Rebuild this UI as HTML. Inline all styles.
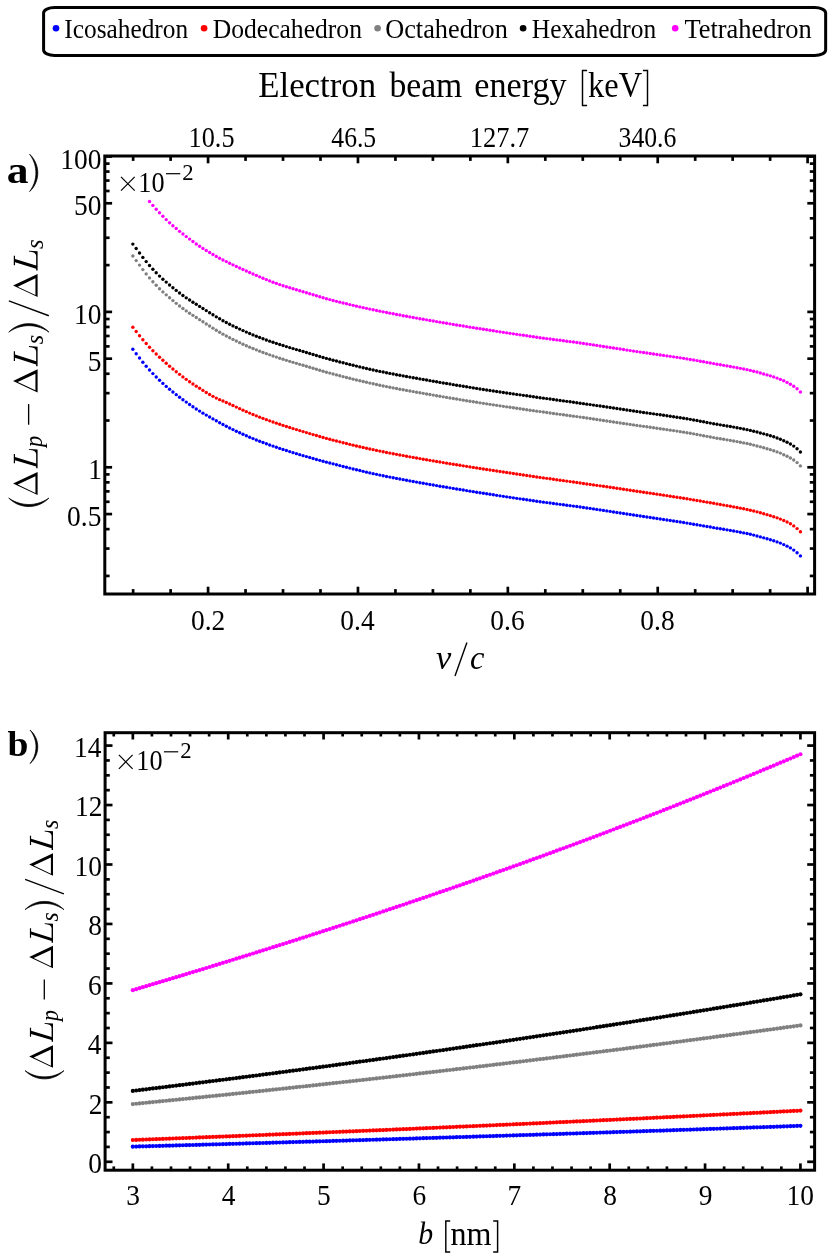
<!DOCTYPE html>
<html><head><meta charset="utf-8"><title>chart</title>
<style>html,body{margin:0;padding:0;background:#fff}svg{display:block;will-change:transform}text{font-family:"Liberation Serif",serif;fill:#000}</style>
</head><body>
<svg width="830" height="1255" viewBox="0 0 830 1255">
<rect width="830" height="1255" fill="#fff"/>
<rect x="43.6" y="7.45" width="782.05" height="48.05" rx="11" ry="5.5" fill="none" stroke="#000" stroke-width="3"/>
<circle cx="56.0" cy="28.3" r="3.3" fill="#0000ff"/>
<text x="64.31" y="37.80" font-size="26.60" textLength="123.77" lengthAdjust="spacingAndGlyphs">Icosahedron</text>
<circle cx="204.1" cy="28.3" r="3.3" fill="#ff0000"/>
<text x="212.66" y="37.80" font-size="26.60" textLength="149.32" lengthAdjust="spacingAndGlyphs">Dodecahedron</text>
<circle cx="377.6" cy="28.3" r="3.3" fill="#808080"/>
<text x="385.15" y="37.80" font-size="26.60" textLength="122.75" lengthAdjust="spacingAndGlyphs">Octahedron</text>
<circle cx="523.1" cy="28.3" r="3.3" fill="#000000"/>
<text x="531.86" y="37.80" font-size="26.60" textLength="124.32" lengthAdjust="spacingAndGlyphs">Hexahedron</text>
<circle cx="675.2" cy="28.3" r="3.3" fill="#ff00ff"/>
<text x="684.40" y="37.80" font-size="26.60" textLength="127.29" lengthAdjust="spacingAndGlyphs">Tetrahedron</text>
<text x="258.23" y="97.20" font-size="35.20" textLength="117.89" lengthAdjust="spacingAndGlyphs">Electron</text>
<text x="389.40" y="97.20" font-size="35.20" textLength="72.93" lengthAdjust="spacingAndGlyphs">beam</text>
<text x="474.30" y="97.20" font-size="35.20" textLength="92.40" lengthAdjust="spacingAndGlyphs">energy</text>
<text x="588.11" y="97.20" font-size="35.20" textLength="54.02" lengthAdjust="spacingAndGlyphs">keV</text>
<path d="M587.10 70.40 H582.50 V105.50 H587.10" fill="none" stroke="#000" stroke-width="1.45" stroke-linejoin="miter"/>
<path d="M642.90 70.40 H647.50 V105.50 H642.90" fill="none" stroke="#000" stroke-width="1.45"/>
<text x="188.57" y="147.40" font-size="29.50" textLength="45.95" lengthAdjust="spacingAndGlyphs">10.5</text>
<text x="331.32" y="147.40" font-size="29.50" textLength="44.88" lengthAdjust="spacingAndGlyphs">46.5</text>
<text x="469.65" y="147.40" font-size="29.50" textLength="59.61" lengthAdjust="spacingAndGlyphs">127.7</text>
<text x="618.54" y="147.40" font-size="29.50" textLength="57.80" lengthAdjust="spacingAndGlyphs">340.6</text>
<rect x="104.8" y="156.0" width="709.80" height="438.00" fill="none" stroke="#000" stroke-width="3.0"/>
<g stroke="#000" stroke-width="2.7" fill="none">
<line x1="133.14" y1="594.0" x2="133.14" y2="589.10"/>
<line x1="133.14" y1="156.0" x2="133.14" y2="160.90"/>
<line x1="170.61" y1="594.0" x2="170.61" y2="589.10"/>
<line x1="170.61" y1="156.0" x2="170.61" y2="160.90"/>
<line x1="208.08" y1="594.0" x2="208.08" y2="586.70"/>
<line x1="208.08" y1="156.0" x2="208.08" y2="163.30"/>
<line x1="245.55" y1="594.0" x2="245.55" y2="589.10"/>
<line x1="245.55" y1="156.0" x2="245.55" y2="160.90"/>
<line x1="283.02" y1="594.0" x2="283.02" y2="589.10"/>
<line x1="283.02" y1="156.0" x2="283.02" y2="160.90"/>
<line x1="320.49" y1="594.0" x2="320.49" y2="589.10"/>
<line x1="320.49" y1="156.0" x2="320.49" y2="160.90"/>
<line x1="357.96" y1="594.0" x2="357.96" y2="586.70"/>
<line x1="357.96" y1="156.0" x2="357.96" y2="163.30"/>
<line x1="395.43" y1="594.0" x2="395.43" y2="589.10"/>
<line x1="395.43" y1="156.0" x2="395.43" y2="160.90"/>
<line x1="432.90" y1="594.0" x2="432.90" y2="589.10"/>
<line x1="432.90" y1="156.0" x2="432.90" y2="160.90"/>
<line x1="470.37" y1="594.0" x2="470.37" y2="589.10"/>
<line x1="470.37" y1="156.0" x2="470.37" y2="160.90"/>
<line x1="507.84" y1="594.0" x2="507.84" y2="586.70"/>
<line x1="507.84" y1="156.0" x2="507.84" y2="163.30"/>
<line x1="545.31" y1="594.0" x2="545.31" y2="589.10"/>
<line x1="545.31" y1="156.0" x2="545.31" y2="160.90"/>
<line x1="582.78" y1="594.0" x2="582.78" y2="589.10"/>
<line x1="582.78" y1="156.0" x2="582.78" y2="160.90"/>
<line x1="620.25" y1="594.0" x2="620.25" y2="589.10"/>
<line x1="620.25" y1="156.0" x2="620.25" y2="160.90"/>
<line x1="657.72" y1="594.0" x2="657.72" y2="586.70"/>
<line x1="657.72" y1="156.0" x2="657.72" y2="163.30"/>
<line x1="695.19" y1="594.0" x2="695.19" y2="589.10"/>
<line x1="695.19" y1="156.0" x2="695.19" y2="160.90"/>
<line x1="732.66" y1="594.0" x2="732.66" y2="589.10"/>
<line x1="732.66" y1="156.0" x2="732.66" y2="160.90"/>
<line x1="770.13" y1="594.0" x2="770.13" y2="589.10"/>
<line x1="770.13" y1="156.0" x2="770.13" y2="160.90"/>
<line x1="807.60" y1="594.0" x2="807.60" y2="586.70"/>
<line x1="807.60" y1="156.0" x2="807.60" y2="163.30"/>
<line x1="104.8" y1="575.92" x2="109.60" y2="575.92"/>
<line x1="814.6" y1="575.92" x2="809.80" y2="575.92"/>
<line x1="104.8" y1="548.56" x2="109.60" y2="548.56"/>
<line x1="814.6" y1="548.56" x2="809.80" y2="548.56"/>
<line x1="104.8" y1="529.14" x2="109.60" y2="529.14"/>
<line x1="814.6" y1="529.14" x2="809.80" y2="529.14"/>
<line x1="104.8" y1="514.08" x2="112.10" y2="514.08"/>
<line x1="814.6" y1="514.08" x2="807.30" y2="514.08"/>
<line x1="104.8" y1="501.78" x2="109.60" y2="501.78"/>
<line x1="814.6" y1="501.78" x2="809.80" y2="501.78"/>
<line x1="104.8" y1="491.37" x2="109.60" y2="491.37"/>
<line x1="814.6" y1="491.37" x2="809.80" y2="491.37"/>
<line x1="104.8" y1="482.36" x2="109.60" y2="482.36"/>
<line x1="814.6" y1="482.36" x2="809.80" y2="482.36"/>
<line x1="104.8" y1="474.41" x2="109.60" y2="474.41"/>
<line x1="814.6" y1="474.41" x2="809.80" y2="474.41"/>
<line x1="104.8" y1="467.30" x2="112.10" y2="467.30"/>
<line x1="814.6" y1="467.30" x2="807.30" y2="467.30"/>
<line x1="104.8" y1="420.52" x2="109.60" y2="420.52"/>
<line x1="814.6" y1="420.52" x2="809.80" y2="420.52"/>
<line x1="104.8" y1="393.16" x2="109.60" y2="393.16"/>
<line x1="814.6" y1="393.16" x2="809.80" y2="393.16"/>
<line x1="104.8" y1="373.74" x2="109.60" y2="373.74"/>
<line x1="814.6" y1="373.74" x2="809.80" y2="373.74"/>
<line x1="104.8" y1="358.68" x2="112.10" y2="358.68"/>
<line x1="814.6" y1="358.68" x2="807.30" y2="358.68"/>
<line x1="104.8" y1="346.38" x2="109.60" y2="346.38"/>
<line x1="814.6" y1="346.38" x2="809.80" y2="346.38"/>
<line x1="104.8" y1="335.97" x2="109.60" y2="335.97"/>
<line x1="814.6" y1="335.97" x2="809.80" y2="335.97"/>
<line x1="104.8" y1="326.96" x2="109.60" y2="326.96"/>
<line x1="814.6" y1="326.96" x2="809.80" y2="326.96"/>
<line x1="104.8" y1="319.01" x2="109.60" y2="319.01"/>
<line x1="814.6" y1="319.01" x2="809.80" y2="319.01"/>
<line x1="104.8" y1="311.90" x2="112.10" y2="311.90"/>
<line x1="814.6" y1="311.90" x2="807.30" y2="311.90"/>
<line x1="104.8" y1="265.12" x2="109.60" y2="265.12"/>
<line x1="814.6" y1="265.12" x2="809.80" y2="265.12"/>
<line x1="104.8" y1="237.76" x2="109.60" y2="237.76"/>
<line x1="814.6" y1="237.76" x2="809.80" y2="237.76"/>
<line x1="104.8" y1="218.34" x2="109.60" y2="218.34"/>
<line x1="814.6" y1="218.34" x2="809.80" y2="218.34"/>
<line x1="104.8" y1="203.28" x2="112.10" y2="203.28"/>
<line x1="814.6" y1="203.28" x2="807.30" y2="203.28"/>
<line x1="104.8" y1="190.98" x2="109.60" y2="190.98"/>
<line x1="814.6" y1="190.98" x2="809.80" y2="190.98"/>
<line x1="104.8" y1="180.57" x2="109.60" y2="180.57"/>
<line x1="814.6" y1="180.57" x2="809.80" y2="180.57"/>
<line x1="104.8" y1="171.56" x2="109.60" y2="171.56"/>
<line x1="814.6" y1="171.56" x2="809.80" y2="171.56"/>
<line x1="104.8" y1="163.61" x2="109.60" y2="163.61"/>
<line x1="814.6" y1="163.61" x2="809.80" y2="163.61"/>
<line x1="104.8" y1="156.50" x2="112.10" y2="156.50"/>
<line x1="814.6" y1="156.50" x2="807.30" y2="156.50"/>
</g>
<text x="60.21" y="168.50" font-size="29.50" textLength="41.15" lengthAdjust="spacingAndGlyphs">100</text>
<text x="73.93" y="215.28" font-size="29.50" textLength="27.44" lengthAdjust="spacingAndGlyphs">50</text>
<text x="73.93" y="323.90" font-size="29.50" textLength="27.43" lengthAdjust="spacingAndGlyphs">10</text>
<text x="87.64" y="370.68" font-size="29.50" textLength="13.72" lengthAdjust="spacingAndGlyphs">5</text>
<text x="88.33" y="479.30" font-size="29.50" textLength="13.72" lengthAdjust="spacingAndGlyphs">1</text>
<text x="67.07" y="526.08" font-size="29.50" textLength="34.29" lengthAdjust="spacingAndGlyphs">0.5</text>
<text x="191.01" y="629.80" font-size="29.50" textLength="34.29" lengthAdjust="spacingAndGlyphs">0.2</text>
<text x="340.34" y="629.80" font-size="29.50" textLength="34.29" lengthAdjust="spacingAndGlyphs">0.4</text>
<text x="490.36" y="629.80" font-size="29.50" textLength="34.29" lengthAdjust="spacingAndGlyphs">0.6</text>
<text x="640.37" y="629.80" font-size="29.50" textLength="34.29" lengthAdjust="spacingAndGlyphs">0.8</text>
<path d="M121.00 176.80 l13.7 13.9 M134.70 176.80 l-13.7 13.9" stroke="#000" stroke-width="1.2" fill="none"/>
<text x="138.37" y="191.80" font-size="30.20" textLength="26.25" lengthAdjust="spacingAndGlyphs">10</text>
<line x1="166.00" y1="173.70" x2="180.30" y2="173.70" stroke="#000" stroke-width="1.2"/>
<text x="182.29" y="179.70" font-size="24.00" textLength="11.36" lengthAdjust="spacingAndGlyphs">2</text>
<g fill="#0000ff"><circle cx="132.85" cy="349.20" r="1.7"/><circle cx="136.19" cy="353.72" r="1.7"/><circle cx="139.53" cy="358.07" r="1.7"/><circle cx="142.86" cy="362.25" r="1.7"/><circle cx="146.20" cy="366.23" r="1.7"/><circle cx="149.54" cy="370.00" r="1.7"/><circle cx="152.88" cy="373.58" r="1.7"/><circle cx="156.21" cy="377.00" r="1.7"/><circle cx="159.55" cy="380.27" r="1.7"/><circle cx="162.89" cy="383.40" r="1.7"/><circle cx="166.23" cy="386.40" r="1.7"/><circle cx="169.57" cy="389.27" r="1.7"/><circle cx="172.90" cy="392.02" r="1.7"/><circle cx="176.24" cy="394.66" r="1.7"/><circle cx="179.58" cy="397.22" r="1.7"/><circle cx="182.92" cy="399.70" r="1.7"/><circle cx="186.25" cy="402.12" r="1.7"/><circle cx="189.59" cy="404.47" r="1.7"/><circle cx="192.93" cy="406.76" r="1.7"/><circle cx="196.27" cy="408.97" r="1.7"/><circle cx="199.61" cy="411.10" r="1.7"/><circle cx="202.94" cy="413.15" r="1.7"/><circle cx="206.28" cy="415.12" r="1.7"/><circle cx="209.62" cy="417.04" r="1.7"/><circle cx="212.96" cy="418.92" r="1.7"/><circle cx="216.30" cy="420.80" r="1.7"/><circle cx="219.63" cy="422.69" r="1.7"/><circle cx="222.97" cy="424.54" r="1.7"/><circle cx="226.31" cy="426.30" r="1.7"/><circle cx="229.65" cy="427.98" r="1.7"/><circle cx="232.98" cy="429.62" r="1.7"/><circle cx="236.32" cy="431.22" r="1.7"/><circle cx="239.66" cy="432.78" r="1.7"/><circle cx="243.00" cy="434.30" r="1.7"/><circle cx="246.34" cy="435.78" r="1.7"/><circle cx="249.67" cy="437.21" r="1.7"/><circle cx="253.01" cy="438.60" r="1.7"/><circle cx="256.35" cy="439.94" r="1.7"/><circle cx="259.69" cy="441.25" r="1.7"/><circle cx="263.02" cy="442.51" r="1.7"/><circle cx="266.36" cy="443.75" r="1.7"/><circle cx="269.70" cy="444.95" r="1.7"/><circle cx="273.04" cy="446.12" r="1.7"/><circle cx="276.38" cy="447.27" r="1.7"/><circle cx="279.71" cy="448.40" r="1.7"/><circle cx="283.05" cy="449.50" r="1.7"/><circle cx="286.39" cy="450.57" r="1.7"/><circle cx="289.73" cy="451.62" r="1.7"/><circle cx="293.06" cy="452.65" r="1.7"/><circle cx="296.40" cy="453.66" r="1.7"/><circle cx="299.74" cy="454.65" r="1.7"/><circle cx="303.08" cy="455.63" r="1.7"/><circle cx="306.42" cy="456.60" r="1.7"/><circle cx="309.75" cy="457.56" r="1.7"/><circle cx="313.09" cy="458.50" r="1.7"/><circle cx="316.43" cy="459.43" r="1.7"/><circle cx="319.77" cy="460.34" r="1.7"/><circle cx="323.10" cy="461.24" r="1.7"/><circle cx="326.44" cy="462.13" r="1.7"/><circle cx="329.78" cy="463.00" r="1.7"/><circle cx="333.12" cy="463.86" r="1.7"/><circle cx="336.46" cy="464.72" r="1.7"/><circle cx="339.79" cy="465.58" r="1.7"/><circle cx="343.13" cy="466.43" r="1.7"/><circle cx="346.47" cy="467.28" r="1.7"/><circle cx="349.81" cy="468.11" r="1.7"/><circle cx="353.14" cy="468.94" r="1.7"/><circle cx="356.48" cy="469.76" r="1.7"/><circle cx="359.82" cy="470.57" r="1.7"/><circle cx="363.16" cy="471.36" r="1.7"/><circle cx="366.50" cy="472.14" r="1.7"/><circle cx="369.83" cy="472.90" r="1.7"/><circle cx="373.17" cy="473.64" r="1.7"/><circle cx="376.51" cy="474.37" r="1.7"/><circle cx="379.85" cy="475.08" r="1.7"/><circle cx="383.19" cy="475.77" r="1.7"/><circle cx="386.52" cy="476.45" r="1.7"/><circle cx="389.86" cy="477.12" r="1.7"/><circle cx="393.20" cy="477.77" r="1.7"/><circle cx="396.54" cy="478.41" r="1.7"/><circle cx="399.87" cy="479.04" r="1.7"/><circle cx="403.21" cy="479.67" r="1.7"/><circle cx="406.55" cy="480.28" r="1.7"/><circle cx="409.89" cy="480.89" r="1.7"/><circle cx="413.23" cy="481.49" r="1.7"/><circle cx="416.56" cy="482.09" r="1.7"/><circle cx="419.90" cy="482.68" r="1.7"/><circle cx="423.24" cy="483.27" r="1.7"/><circle cx="426.58" cy="483.86" r="1.7"/><circle cx="429.91" cy="484.44" r="1.7"/><circle cx="433.25" cy="485.03" r="1.7"/><circle cx="436.59" cy="485.60" r="1.7"/><circle cx="439.93" cy="486.18" r="1.7"/><circle cx="443.27" cy="486.75" r="1.7"/><circle cx="446.60" cy="487.31" r="1.7"/><circle cx="449.94" cy="487.87" r="1.7"/><circle cx="453.28" cy="488.42" r="1.7"/><circle cx="456.62" cy="488.98" r="1.7"/><circle cx="459.95" cy="489.52" r="1.7"/><circle cx="463.29" cy="490.07" r="1.7"/><circle cx="466.63" cy="490.61" r="1.7"/><circle cx="469.97" cy="491.14" r="1.7"/><circle cx="473.31" cy="491.67" r="1.7"/><circle cx="476.64" cy="492.20" r="1.7"/><circle cx="479.98" cy="492.73" r="1.7"/><circle cx="483.32" cy="493.26" r="1.7"/><circle cx="486.66" cy="493.78" r="1.7"/><circle cx="489.99" cy="494.30" r="1.7"/><circle cx="493.33" cy="494.82" r="1.7"/><circle cx="496.67" cy="495.33" r="1.7"/><circle cx="500.01" cy="495.84" r="1.7"/><circle cx="503.35" cy="496.35" r="1.7"/><circle cx="506.68" cy="496.85" r="1.7"/><circle cx="510.02" cy="497.35" r="1.7"/><circle cx="513.36" cy="497.85" r="1.7"/><circle cx="516.70" cy="498.35" r="1.7"/><circle cx="520.03" cy="498.84" r="1.7"/><circle cx="523.37" cy="499.32" r="1.7"/><circle cx="526.71" cy="499.81" r="1.7"/><circle cx="530.05" cy="500.28" r="1.7"/><circle cx="533.39" cy="500.76" r="1.7"/><circle cx="536.72" cy="501.23" r="1.7"/><circle cx="540.06" cy="501.69" r="1.7"/><circle cx="543.40" cy="502.14" r="1.7"/><circle cx="546.74" cy="502.58" r="1.7"/><circle cx="550.08" cy="503.02" r="1.7"/><circle cx="553.41" cy="503.46" r="1.7"/><circle cx="556.75" cy="503.89" r="1.7"/><circle cx="560.09" cy="504.33" r="1.7"/><circle cx="563.43" cy="504.76" r="1.7"/><circle cx="566.76" cy="505.20" r="1.7"/><circle cx="570.10" cy="505.64" r="1.7"/><circle cx="573.44" cy="506.08" r="1.7"/><circle cx="576.78" cy="506.53" r="1.7"/><circle cx="580.12" cy="506.99" r="1.7"/><circle cx="583.45" cy="507.45" r="1.7"/><circle cx="586.79" cy="507.93" r="1.7"/><circle cx="590.13" cy="508.41" r="1.7"/><circle cx="593.47" cy="508.90" r="1.7"/><circle cx="596.80" cy="509.39" r="1.7"/><circle cx="600.14" cy="509.89" r="1.7"/><circle cx="603.48" cy="510.40" r="1.7"/><circle cx="606.82" cy="510.90" r="1.7"/><circle cx="610.16" cy="511.41" r="1.7"/><circle cx="613.49" cy="511.93" r="1.7"/><circle cx="616.83" cy="512.44" r="1.7"/><circle cx="620.17" cy="512.95" r="1.7"/><circle cx="623.51" cy="513.47" r="1.7"/><circle cx="626.84" cy="513.98" r="1.7"/><circle cx="630.18" cy="514.49" r="1.7"/><circle cx="633.52" cy="515.00" r="1.7"/><circle cx="636.86" cy="515.50" r="1.7"/><circle cx="640.20" cy="516.00" r="1.7"/><circle cx="643.53" cy="516.50" r="1.7"/><circle cx="646.87" cy="517.00" r="1.7"/><circle cx="650.21" cy="517.50" r="1.7"/><circle cx="653.55" cy="517.99" r="1.7"/><circle cx="656.88" cy="518.49" r="1.7"/><circle cx="660.22" cy="518.99" r="1.7"/><circle cx="663.56" cy="519.48" r="1.7"/><circle cx="666.90" cy="519.99" r="1.7"/><circle cx="670.24" cy="520.49" r="1.7"/><circle cx="673.57" cy="521.00" r="1.7"/><circle cx="676.91" cy="521.51" r="1.7"/><circle cx="680.25" cy="522.03" r="1.7"/><circle cx="683.59" cy="522.56" r="1.7"/><circle cx="686.92" cy="523.09" r="1.7"/><circle cx="690.26" cy="523.64" r="1.7"/><circle cx="693.60" cy="524.19" r="1.7"/><circle cx="696.94" cy="524.75" r="1.7"/><circle cx="700.28" cy="525.33" r="1.7"/><circle cx="703.61" cy="525.90" r="1.7"/><circle cx="706.95" cy="526.48" r="1.7"/><circle cx="710.29" cy="527.06" r="1.7"/><circle cx="713.63" cy="527.63" r="1.7"/><circle cx="716.97" cy="528.20" r="1.7"/><circle cx="720.30" cy="528.76" r="1.7"/><circle cx="723.64" cy="529.30" r="1.7"/><circle cx="726.98" cy="529.85" r="1.7"/><circle cx="730.32" cy="530.41" r="1.7"/><circle cx="733.65" cy="531.00" r="1.7"/><circle cx="736.99" cy="531.61" r="1.7"/><circle cx="740.33" cy="532.23" r="1.7"/><circle cx="743.67" cy="532.88" r="1.7"/><circle cx="747.01" cy="533.57" r="1.7"/><circle cx="750.34" cy="534.30" r="1.7"/><circle cx="753.68" cy="535.10" r="1.7"/><circle cx="757.02" cy="535.97" r="1.7"/><circle cx="760.36" cy="536.89" r="1.7"/><circle cx="763.69" cy="537.84" r="1.7"/><circle cx="767.03" cy="538.80" r="1.7"/><circle cx="770.37" cy="539.77" r="1.7"/><circle cx="773.71" cy="540.80" r="1.7"/><circle cx="777.05" cy="541.89" r="1.7"/><circle cx="780.38" cy="543.10" r="1.7"/><circle cx="783.72" cy="544.60" r="1.7"/><circle cx="787.06" cy="546.15" r="1.7"/><circle cx="790.40" cy="547.90" r="1.7"/><circle cx="793.73" cy="550.10" r="1.7"/><circle cx="797.07" cy="552.70" r="1.7"/><circle cx="800.41" cy="555.90" r="1.7"/></g>
<g fill="#ff0000"><circle cx="132.85" cy="327.20" r="1.7"/><circle cx="136.19" cy="331.52" r="1.7"/><circle cx="139.53" cy="335.69" r="1.7"/><circle cx="142.86" cy="339.70" r="1.7"/><circle cx="146.20" cy="343.54" r="1.7"/><circle cx="149.54" cy="347.20" r="1.7"/><circle cx="152.88" cy="350.69" r="1.7"/><circle cx="156.21" cy="354.02" r="1.7"/><circle cx="159.55" cy="357.22" r="1.7"/><circle cx="162.89" cy="360.31" r="1.7"/><circle cx="166.23" cy="363.30" r="1.7"/><circle cx="169.57" cy="366.20" r="1.7"/><circle cx="172.90" cy="369.02" r="1.7"/><circle cx="176.24" cy="371.74" r="1.7"/><circle cx="179.58" cy="374.37" r="1.7"/><circle cx="182.92" cy="376.90" r="1.7"/><circle cx="186.25" cy="379.34" r="1.7"/><circle cx="189.59" cy="381.69" r="1.7"/><circle cx="192.93" cy="383.96" r="1.7"/><circle cx="196.27" cy="386.16" r="1.7"/><circle cx="199.61" cy="388.30" r="1.7"/><circle cx="202.94" cy="390.40" r="1.7"/><circle cx="206.28" cy="392.47" r="1.7"/><circle cx="209.62" cy="394.47" r="1.7"/><circle cx="212.96" cy="396.36" r="1.7"/><circle cx="216.30" cy="398.10" r="1.7"/><circle cx="219.63" cy="399.65" r="1.7"/><circle cx="222.97" cy="401.07" r="1.7"/><circle cx="226.31" cy="402.50" r="1.7"/><circle cx="229.65" cy="404.00" r="1.7"/><circle cx="232.98" cy="405.53" r="1.7"/><circle cx="236.32" cy="407.08" r="1.7"/><circle cx="239.66" cy="408.63" r="1.7"/><circle cx="243.00" cy="410.16" r="1.7"/><circle cx="246.34" cy="411.66" r="1.7"/><circle cx="249.67" cy="413.11" r="1.7"/><circle cx="253.01" cy="414.50" r="1.7"/><circle cx="256.35" cy="415.83" r="1.7"/><circle cx="259.69" cy="417.13" r="1.7"/><circle cx="263.02" cy="418.39" r="1.7"/><circle cx="266.36" cy="419.63" r="1.7"/><circle cx="269.70" cy="420.83" r="1.7"/><circle cx="273.04" cy="422.01" r="1.7"/><circle cx="276.38" cy="423.17" r="1.7"/><circle cx="279.71" cy="424.30" r="1.7"/><circle cx="283.05" cy="425.41" r="1.7"/><circle cx="286.39" cy="426.49" r="1.7"/><circle cx="289.73" cy="427.54" r="1.7"/><circle cx="293.06" cy="428.58" r="1.7"/><circle cx="296.40" cy="429.60" r="1.7"/><circle cx="299.74" cy="430.61" r="1.7"/><circle cx="303.08" cy="431.60" r="1.7"/><circle cx="306.42" cy="432.60" r="1.7"/><circle cx="309.75" cy="433.59" r="1.7"/><circle cx="313.09" cy="434.59" r="1.7"/><circle cx="316.43" cy="435.57" r="1.7"/><circle cx="319.77" cy="436.54" r="1.7"/><circle cx="323.10" cy="437.49" r="1.7"/><circle cx="326.44" cy="438.41" r="1.7"/><circle cx="329.78" cy="439.30" r="1.7"/><circle cx="333.12" cy="440.17" r="1.7"/><circle cx="336.46" cy="441.03" r="1.7"/><circle cx="339.79" cy="441.87" r="1.7"/><circle cx="343.13" cy="442.71" r="1.7"/><circle cx="346.47" cy="443.53" r="1.7"/><circle cx="349.81" cy="444.34" r="1.7"/><circle cx="353.14" cy="445.14" r="1.7"/><circle cx="356.48" cy="445.93" r="1.7"/><circle cx="359.82" cy="446.70" r="1.7"/><circle cx="363.16" cy="447.46" r="1.7"/><circle cx="366.50" cy="448.21" r="1.7"/><circle cx="369.83" cy="448.95" r="1.7"/><circle cx="373.17" cy="449.67" r="1.7"/><circle cx="376.51" cy="450.38" r="1.7"/><circle cx="379.85" cy="451.08" r="1.7"/><circle cx="383.19" cy="451.76" r="1.7"/><circle cx="386.52" cy="452.43" r="1.7"/><circle cx="389.86" cy="453.09" r="1.7"/><circle cx="393.20" cy="453.73" r="1.7"/><circle cx="396.54" cy="454.37" r="1.7"/><circle cx="399.87" cy="455.00" r="1.7"/><circle cx="403.21" cy="455.61" r="1.7"/><circle cx="406.55" cy="456.22" r="1.7"/><circle cx="409.89" cy="456.83" r="1.7"/><circle cx="413.23" cy="457.42" r="1.7"/><circle cx="416.56" cy="458.02" r="1.7"/><circle cx="419.90" cy="458.60" r="1.7"/><circle cx="423.24" cy="459.19" r="1.7"/><circle cx="426.58" cy="459.77" r="1.7"/><circle cx="429.91" cy="460.34" r="1.7"/><circle cx="433.25" cy="460.92" r="1.7"/><circle cx="436.59" cy="461.48" r="1.7"/><circle cx="439.93" cy="462.04" r="1.7"/><circle cx="443.27" cy="462.60" r="1.7"/><circle cx="446.60" cy="463.15" r="1.7"/><circle cx="449.94" cy="463.69" r="1.7"/><circle cx="453.28" cy="464.23" r="1.7"/><circle cx="456.62" cy="464.77" r="1.7"/><circle cx="459.95" cy="465.30" r="1.7"/><circle cx="463.29" cy="465.83" r="1.7"/><circle cx="466.63" cy="466.35" r="1.7"/><circle cx="469.97" cy="466.88" r="1.7"/><circle cx="473.31" cy="467.40" r="1.7"/><circle cx="476.64" cy="467.92" r="1.7"/><circle cx="479.98" cy="468.44" r="1.7"/><circle cx="483.32" cy="468.96" r="1.7"/><circle cx="486.66" cy="469.47" r="1.7"/><circle cx="489.99" cy="469.99" r="1.7"/><circle cx="493.33" cy="470.50" r="1.7"/><circle cx="496.67" cy="471.01" r="1.7"/><circle cx="500.01" cy="471.51" r="1.7"/><circle cx="503.35" cy="472.02" r="1.7"/><circle cx="506.68" cy="472.52" r="1.7"/><circle cx="510.02" cy="473.02" r="1.7"/><circle cx="513.36" cy="473.52" r="1.7"/><circle cx="516.70" cy="474.01" r="1.7"/><circle cx="520.03" cy="474.51" r="1.7"/><circle cx="523.37" cy="475.00" r="1.7"/><circle cx="526.71" cy="475.48" r="1.7"/><circle cx="530.05" cy="475.97" r="1.7"/><circle cx="533.39" cy="476.46" r="1.7"/><circle cx="536.72" cy="476.94" r="1.7"/><circle cx="540.06" cy="477.41" r="1.7"/><circle cx="543.40" cy="477.88" r="1.7"/><circle cx="546.74" cy="478.35" r="1.7"/><circle cx="550.08" cy="478.82" r="1.7"/><circle cx="553.41" cy="479.28" r="1.7"/><circle cx="556.75" cy="479.74" r="1.7"/><circle cx="560.09" cy="480.20" r="1.7"/><circle cx="563.43" cy="480.66" r="1.7"/><circle cx="566.76" cy="481.12" r="1.7"/><circle cx="570.10" cy="481.58" r="1.7"/><circle cx="573.44" cy="482.05" r="1.7"/><circle cx="576.78" cy="482.51" r="1.7"/><circle cx="580.12" cy="482.98" r="1.7"/><circle cx="583.45" cy="483.45" r="1.7"/><circle cx="586.79" cy="483.93" r="1.7"/><circle cx="590.13" cy="484.40" r="1.7"/><circle cx="593.47" cy="484.88" r="1.7"/><circle cx="596.80" cy="485.36" r="1.7"/><circle cx="600.14" cy="485.84" r="1.7"/><circle cx="603.48" cy="486.32" r="1.7"/><circle cx="606.82" cy="486.80" r="1.7"/><circle cx="610.16" cy="487.28" r="1.7"/><circle cx="613.49" cy="487.77" r="1.7"/><circle cx="616.83" cy="488.25" r="1.7"/><circle cx="620.17" cy="488.74" r="1.7"/><circle cx="623.51" cy="489.23" r="1.7"/><circle cx="626.84" cy="489.72" r="1.7"/><circle cx="630.18" cy="490.21" r="1.7"/><circle cx="633.52" cy="490.70" r="1.7"/><circle cx="636.86" cy="491.20" r="1.7"/><circle cx="640.20" cy="491.69" r="1.7"/><circle cx="643.53" cy="492.19" r="1.7"/><circle cx="646.87" cy="492.68" r="1.7"/><circle cx="650.21" cy="493.17" r="1.7"/><circle cx="653.55" cy="493.67" r="1.7"/><circle cx="656.88" cy="494.17" r="1.7"/><circle cx="660.22" cy="494.66" r="1.7"/><circle cx="663.56" cy="495.17" r="1.7"/><circle cx="666.90" cy="495.67" r="1.7"/><circle cx="670.24" cy="496.18" r="1.7"/><circle cx="673.57" cy="496.69" r="1.7"/><circle cx="676.91" cy="497.21" r="1.7"/><circle cx="680.25" cy="497.73" r="1.7"/><circle cx="683.59" cy="498.26" r="1.7"/><circle cx="686.92" cy="498.79" r="1.7"/><circle cx="690.26" cy="499.33" r="1.7"/><circle cx="693.60" cy="499.88" r="1.7"/><circle cx="696.94" cy="500.44" r="1.7"/><circle cx="700.28" cy="501.01" r="1.7"/><circle cx="703.61" cy="501.58" r="1.7"/><circle cx="706.95" cy="502.15" r="1.7"/><circle cx="710.29" cy="502.73" r="1.7"/><circle cx="713.63" cy="503.32" r="1.7"/><circle cx="716.97" cy="503.90" r="1.7"/><circle cx="720.30" cy="504.49" r="1.7"/><circle cx="723.64" cy="505.08" r="1.7"/><circle cx="726.98" cy="505.67" r="1.7"/><circle cx="730.32" cy="506.28" r="1.7"/><circle cx="733.65" cy="506.90" r="1.7"/><circle cx="736.99" cy="507.52" r="1.7"/><circle cx="740.33" cy="508.15" r="1.7"/><circle cx="743.67" cy="508.79" r="1.7"/><circle cx="747.01" cy="509.47" r="1.7"/><circle cx="750.34" cy="510.20" r="1.7"/><circle cx="753.68" cy="510.99" r="1.7"/><circle cx="757.02" cy="511.85" r="1.7"/><circle cx="760.36" cy="512.75" r="1.7"/><circle cx="763.69" cy="513.69" r="1.7"/><circle cx="767.03" cy="514.65" r="1.7"/><circle cx="770.37" cy="515.64" r="1.7"/><circle cx="773.71" cy="516.70" r="1.7"/><circle cx="777.05" cy="517.85" r="1.7"/><circle cx="780.38" cy="519.10" r="1.7"/><circle cx="783.72" cy="520.50" r="1.7"/><circle cx="787.06" cy="522.00" r="1.7"/><circle cx="790.40" cy="523.80" r="1.7"/><circle cx="793.73" cy="525.90" r="1.7"/><circle cx="797.07" cy="528.60" r="1.7"/><circle cx="800.41" cy="531.70" r="1.7"/></g>
<g fill="#808080"><circle cx="132.85" cy="256.00" r="1.7"/><circle cx="136.19" cy="260.58" r="1.7"/><circle cx="139.53" cy="265.11" r="1.7"/><circle cx="142.86" cy="269.61" r="1.7"/><circle cx="146.20" cy="273.90" r="1.7"/><circle cx="149.54" cy="277.89" r="1.7"/><circle cx="152.88" cy="281.77" r="1.7"/><circle cx="156.21" cy="285.24" r="1.7"/><circle cx="159.55" cy="288.72" r="1.7"/><circle cx="162.89" cy="291.88" r="1.7"/><circle cx="166.23" cy="294.85" r="1.7"/><circle cx="169.57" cy="297.75" r="1.7"/><circle cx="172.90" cy="300.59" r="1.7"/><circle cx="176.24" cy="303.35" r="1.7"/><circle cx="179.58" cy="306.01" r="1.7"/><circle cx="182.92" cy="308.53" r="1.7"/><circle cx="186.25" cy="310.91" r="1.7"/><circle cx="189.59" cy="313.18" r="1.7"/><circle cx="192.93" cy="315.37" r="1.7"/><circle cx="196.27" cy="317.51" r="1.7"/><circle cx="199.61" cy="319.64" r="1.7"/><circle cx="202.94" cy="321.78" r="1.7"/><circle cx="206.28" cy="323.93" r="1.7"/><circle cx="209.62" cy="326.07" r="1.7"/><circle cx="212.96" cy="328.17" r="1.7"/><circle cx="216.30" cy="330.23" r="1.7"/><circle cx="219.63" cy="332.23" r="1.7"/><circle cx="222.97" cy="334.15" r="1.7"/><circle cx="226.31" cy="335.98" r="1.7"/><circle cx="229.65" cy="337.73" r="1.7"/><circle cx="232.98" cy="339.42" r="1.7"/><circle cx="236.32" cy="341.07" r="1.7"/><circle cx="239.66" cy="342.66" r="1.7"/><circle cx="243.00" cy="344.20" r="1.7"/><circle cx="246.34" cy="345.69" r="1.7"/><circle cx="249.67" cy="347.14" r="1.7"/><circle cx="253.01" cy="348.53" r="1.7"/><circle cx="256.35" cy="349.87" r="1.7"/><circle cx="259.69" cy="351.17" r="1.7"/><circle cx="263.02" cy="352.43" r="1.7"/><circle cx="266.36" cy="353.65" r="1.7"/><circle cx="269.70" cy="354.83" r="1.7"/><circle cx="273.04" cy="355.99" r="1.7"/><circle cx="276.38" cy="357.12" r="1.7"/><circle cx="279.71" cy="358.23" r="1.7"/><circle cx="283.05" cy="359.31" r="1.7"/><circle cx="286.39" cy="360.35" r="1.7"/><circle cx="289.73" cy="361.37" r="1.7"/><circle cx="293.06" cy="362.37" r="1.7"/><circle cx="296.40" cy="363.35" r="1.7"/><circle cx="299.74" cy="364.33" r="1.7"/><circle cx="303.08" cy="365.30" r="1.7"/><circle cx="306.42" cy="366.29" r="1.7"/><circle cx="309.75" cy="367.29" r="1.7"/><circle cx="313.09" cy="368.29" r="1.7"/><circle cx="316.43" cy="369.29" r="1.7"/><circle cx="319.77" cy="370.28" r="1.7"/><circle cx="323.10" cy="371.26" r="1.7"/><circle cx="326.44" cy="372.21" r="1.7"/><circle cx="329.78" cy="373.12" r="1.7"/><circle cx="333.12" cy="374.02" r="1.7"/><circle cx="336.46" cy="374.90" r="1.7"/><circle cx="339.79" cy="375.77" r="1.7"/><circle cx="343.13" cy="376.63" r="1.7"/><circle cx="346.47" cy="377.48" r="1.7"/><circle cx="349.81" cy="378.32" r="1.7"/><circle cx="353.14" cy="379.15" r="1.7"/><circle cx="356.48" cy="379.96" r="1.7"/><circle cx="359.82" cy="380.76" r="1.7"/><circle cx="363.16" cy="381.55" r="1.7"/><circle cx="366.50" cy="382.32" r="1.7"/><circle cx="369.83" cy="383.08" r="1.7"/><circle cx="373.17" cy="383.82" r="1.7"/><circle cx="376.51" cy="384.54" r="1.7"/><circle cx="379.85" cy="385.25" r="1.7"/><circle cx="383.19" cy="385.94" r="1.7"/><circle cx="386.52" cy="386.61" r="1.7"/><circle cx="389.86" cy="387.27" r="1.7"/><circle cx="393.20" cy="387.92" r="1.7"/><circle cx="396.54" cy="388.55" r="1.7"/><circle cx="399.87" cy="389.18" r="1.7"/><circle cx="403.21" cy="389.79" r="1.7"/><circle cx="406.55" cy="390.40" r="1.7"/><circle cx="409.89" cy="391.00" r="1.7"/><circle cx="413.23" cy="391.60" r="1.7"/><circle cx="416.56" cy="392.19" r="1.7"/><circle cx="419.90" cy="392.78" r="1.7"/><circle cx="423.24" cy="393.36" r="1.7"/><circle cx="426.58" cy="393.94" r="1.7"/><circle cx="429.91" cy="394.53" r="1.7"/><circle cx="433.25" cy="395.11" r="1.7"/><circle cx="436.59" cy="395.69" r="1.7"/><circle cx="439.93" cy="396.26" r="1.7"/><circle cx="443.27" cy="396.83" r="1.7"/><circle cx="446.60" cy="397.40" r="1.7"/><circle cx="449.94" cy="397.96" r="1.7"/><circle cx="453.28" cy="398.52" r="1.7"/><circle cx="456.62" cy="399.07" r="1.7"/><circle cx="459.95" cy="399.62" r="1.7"/><circle cx="463.29" cy="400.17" r="1.7"/><circle cx="466.63" cy="400.71" r="1.7"/><circle cx="469.97" cy="401.25" r="1.7"/><circle cx="473.31" cy="401.78" r="1.7"/><circle cx="476.64" cy="402.31" r="1.7"/><circle cx="479.98" cy="402.83" r="1.7"/><circle cx="483.32" cy="403.35" r="1.7"/><circle cx="486.66" cy="403.86" r="1.7"/><circle cx="489.99" cy="404.37" r="1.7"/><circle cx="493.33" cy="404.87" r="1.7"/><circle cx="496.67" cy="405.37" r="1.7"/><circle cx="500.01" cy="405.86" r="1.7"/><circle cx="503.35" cy="406.35" r="1.7"/><circle cx="506.68" cy="406.84" r="1.7"/><circle cx="510.02" cy="407.32" r="1.7"/><circle cx="513.36" cy="407.81" r="1.7"/><circle cx="516.70" cy="408.28" r="1.7"/><circle cx="520.03" cy="408.76" r="1.7"/><circle cx="523.37" cy="409.24" r="1.7"/><circle cx="526.71" cy="409.71" r="1.7"/><circle cx="530.05" cy="410.18" r="1.7"/><circle cx="533.39" cy="410.66" r="1.7"/><circle cx="536.72" cy="411.13" r="1.7"/><circle cx="540.06" cy="411.59" r="1.7"/><circle cx="543.40" cy="412.06" r="1.7"/><circle cx="546.74" cy="412.52" r="1.7"/><circle cx="550.08" cy="412.97" r="1.7"/><circle cx="553.41" cy="413.43" r="1.7"/><circle cx="556.75" cy="413.88" r="1.7"/><circle cx="560.09" cy="414.33" r="1.7"/><circle cx="563.43" cy="414.78" r="1.7"/><circle cx="566.76" cy="415.24" r="1.7"/><circle cx="570.10" cy="415.69" r="1.7"/><circle cx="573.44" cy="416.15" r="1.7"/><circle cx="576.78" cy="416.61" r="1.7"/><circle cx="580.12" cy="417.08" r="1.7"/><circle cx="583.45" cy="417.55" r="1.7"/><circle cx="586.79" cy="418.03" r="1.7"/><circle cx="590.13" cy="418.51" r="1.7"/><circle cx="593.47" cy="418.99" r="1.7"/><circle cx="596.80" cy="419.48" r="1.7"/><circle cx="600.14" cy="419.97" r="1.7"/><circle cx="603.48" cy="420.46" r="1.7"/><circle cx="606.82" cy="420.95" r="1.7"/><circle cx="610.16" cy="421.45" r="1.7"/><circle cx="613.49" cy="421.94" r="1.7"/><circle cx="616.83" cy="422.44" r="1.7"/><circle cx="620.17" cy="422.93" r="1.7"/><circle cx="623.51" cy="423.43" r="1.7"/><circle cx="626.84" cy="423.92" r="1.7"/><circle cx="630.18" cy="424.41" r="1.7"/><circle cx="633.52" cy="424.91" r="1.7"/><circle cx="636.86" cy="425.39" r="1.7"/><circle cx="640.20" cy="425.88" r="1.7"/><circle cx="643.53" cy="426.35" r="1.7"/><circle cx="646.87" cy="426.82" r="1.7"/><circle cx="650.21" cy="427.29" r="1.7"/><circle cx="653.55" cy="427.76" r="1.7"/><circle cx="656.88" cy="428.23" r="1.7"/><circle cx="660.22" cy="428.69" r="1.7"/><circle cx="663.56" cy="429.17" r="1.7"/><circle cx="666.90" cy="429.64" r="1.7"/><circle cx="670.24" cy="430.13" r="1.7"/><circle cx="673.57" cy="430.62" r="1.7"/><circle cx="676.91" cy="431.12" r="1.7"/><circle cx="680.25" cy="431.63" r="1.7"/><circle cx="683.59" cy="432.15" r="1.7"/><circle cx="686.92" cy="432.69" r="1.7"/><circle cx="690.26" cy="433.25" r="1.7"/><circle cx="693.60" cy="433.84" r="1.7"/><circle cx="696.94" cy="434.45" r="1.7"/><circle cx="700.28" cy="435.08" r="1.7"/><circle cx="703.61" cy="435.72" r="1.7"/><circle cx="706.95" cy="436.36" r="1.7"/><circle cx="710.29" cy="436.99" r="1.7"/><circle cx="713.63" cy="437.60" r="1.7"/><circle cx="716.97" cy="438.20" r="1.7"/><circle cx="720.30" cy="438.77" r="1.7"/><circle cx="723.64" cy="439.31" r="1.7"/><circle cx="726.98" cy="439.86" r="1.7"/><circle cx="730.32" cy="440.41" r="1.7"/><circle cx="733.65" cy="441.00" r="1.7"/><circle cx="736.99" cy="441.61" r="1.7"/><circle cx="740.33" cy="442.24" r="1.7"/><circle cx="743.67" cy="442.89" r="1.7"/><circle cx="747.01" cy="443.57" r="1.7"/><circle cx="750.34" cy="444.30" r="1.7"/><circle cx="753.68" cy="445.09" r="1.7"/><circle cx="757.02" cy="445.94" r="1.7"/><circle cx="760.36" cy="446.83" r="1.7"/><circle cx="763.69" cy="447.76" r="1.7"/><circle cx="767.03" cy="448.70" r="1.7"/><circle cx="770.37" cy="449.66" r="1.7"/><circle cx="773.71" cy="450.70" r="1.7"/><circle cx="777.05" cy="451.90" r="1.7"/><circle cx="780.38" cy="453.10" r="1.7"/><circle cx="783.72" cy="454.70" r="1.7"/><circle cx="787.06" cy="456.20" r="1.7"/><circle cx="790.40" cy="457.95" r="1.7"/><circle cx="793.73" cy="460.00" r="1.7"/><circle cx="797.07" cy="462.60" r="1.7"/><circle cx="800.41" cy="465.90" r="1.7"/></g>
<g fill="#000000"><circle cx="132.85" cy="244.10" r="1.7"/><circle cx="136.19" cy="248.57" r="1.7"/><circle cx="139.53" cy="253.00" r="1.7"/><circle cx="142.86" cy="257.40" r="1.7"/><circle cx="146.20" cy="261.60" r="1.7"/><circle cx="149.54" cy="265.50" r="1.7"/><circle cx="152.88" cy="269.30" r="1.7"/><circle cx="156.21" cy="272.70" r="1.7"/><circle cx="159.55" cy="276.10" r="1.7"/><circle cx="162.89" cy="279.19" r="1.7"/><circle cx="166.23" cy="282.10" r="1.7"/><circle cx="169.57" cy="284.94" r="1.7"/><circle cx="172.90" cy="287.72" r="1.7"/><circle cx="176.24" cy="290.42" r="1.7"/><circle cx="179.58" cy="293.02" r="1.7"/><circle cx="182.92" cy="295.50" r="1.7"/><circle cx="186.25" cy="297.84" r="1.7"/><circle cx="189.59" cy="300.06" r="1.7"/><circle cx="192.93" cy="302.21" r="1.7"/><circle cx="196.27" cy="304.31" r="1.7"/><circle cx="199.61" cy="306.40" r="1.7"/><circle cx="202.94" cy="308.51" r="1.7"/><circle cx="206.28" cy="310.62" r="1.7"/><circle cx="209.62" cy="312.72" r="1.7"/><circle cx="212.96" cy="314.80" r="1.7"/><circle cx="216.30" cy="316.83" r="1.7"/><circle cx="219.63" cy="318.80" r="1.7"/><circle cx="222.97" cy="320.70" r="1.7"/><circle cx="226.31" cy="322.50" r="1.7"/><circle cx="229.65" cy="324.23" r="1.7"/><circle cx="232.98" cy="325.90" r="1.7"/><circle cx="236.32" cy="327.52" r="1.7"/><circle cx="239.66" cy="329.10" r="1.7"/><circle cx="243.00" cy="330.62" r="1.7"/><circle cx="246.34" cy="332.10" r="1.7"/><circle cx="249.67" cy="333.52" r="1.7"/><circle cx="253.01" cy="334.90" r="1.7"/><circle cx="256.35" cy="336.23" r="1.7"/><circle cx="259.69" cy="337.51" r="1.7"/><circle cx="263.02" cy="338.76" r="1.7"/><circle cx="266.36" cy="339.96" r="1.7"/><circle cx="269.70" cy="341.14" r="1.7"/><circle cx="273.04" cy="342.28" r="1.7"/><circle cx="276.38" cy="343.40" r="1.7"/><circle cx="279.71" cy="344.50" r="1.7"/><circle cx="283.05" cy="345.57" r="1.7"/><circle cx="286.39" cy="346.61" r="1.7"/><circle cx="289.73" cy="347.62" r="1.7"/><circle cx="293.06" cy="348.61" r="1.7"/><circle cx="296.40" cy="349.58" r="1.7"/><circle cx="299.74" cy="350.55" r="1.7"/><circle cx="303.08" cy="351.52" r="1.7"/><circle cx="306.42" cy="352.50" r="1.7"/><circle cx="309.75" cy="353.49" r="1.7"/><circle cx="313.09" cy="354.49" r="1.7"/><circle cx="316.43" cy="355.49" r="1.7"/><circle cx="319.77" cy="356.47" r="1.7"/><circle cx="323.10" cy="357.44" r="1.7"/><circle cx="326.44" cy="358.39" r="1.7"/><circle cx="329.78" cy="359.30" r="1.7"/><circle cx="333.12" cy="360.19" r="1.7"/><circle cx="336.46" cy="361.07" r="1.7"/><circle cx="339.79" cy="361.94" r="1.7"/><circle cx="343.13" cy="362.79" r="1.7"/><circle cx="346.47" cy="363.64" r="1.7"/><circle cx="349.81" cy="364.48" r="1.7"/><circle cx="353.14" cy="365.30" r="1.7"/><circle cx="356.48" cy="366.11" r="1.7"/><circle cx="359.82" cy="366.91" r="1.7"/><circle cx="363.16" cy="367.69" r="1.7"/><circle cx="366.50" cy="368.46" r="1.7"/><circle cx="369.83" cy="369.22" r="1.7"/><circle cx="373.17" cy="369.95" r="1.7"/><circle cx="376.51" cy="370.68" r="1.7"/><circle cx="379.85" cy="371.38" r="1.7"/><circle cx="383.19" cy="372.07" r="1.7"/><circle cx="386.52" cy="372.74" r="1.7"/><circle cx="389.86" cy="373.40" r="1.7"/><circle cx="393.20" cy="374.04" r="1.7"/><circle cx="396.54" cy="374.68" r="1.7"/><circle cx="399.87" cy="375.30" r="1.7"/><circle cx="403.21" cy="375.92" r="1.7"/><circle cx="406.55" cy="376.52" r="1.7"/><circle cx="409.89" cy="377.12" r="1.7"/><circle cx="413.23" cy="377.72" r="1.7"/><circle cx="416.56" cy="378.31" r="1.7"/><circle cx="419.90" cy="378.89" r="1.7"/><circle cx="423.24" cy="379.48" r="1.7"/><circle cx="426.58" cy="380.06" r="1.7"/><circle cx="429.91" cy="380.64" r="1.7"/><circle cx="433.25" cy="381.22" r="1.7"/><circle cx="436.59" cy="381.80" r="1.7"/><circle cx="439.93" cy="382.38" r="1.7"/><circle cx="443.27" cy="382.95" r="1.7"/><circle cx="446.60" cy="383.51" r="1.7"/><circle cx="449.94" cy="384.07" r="1.7"/><circle cx="453.28" cy="384.63" r="1.7"/><circle cx="456.62" cy="385.18" r="1.7"/><circle cx="459.95" cy="385.73" r="1.7"/><circle cx="463.29" cy="386.28" r="1.7"/><circle cx="466.63" cy="386.82" r="1.7"/><circle cx="469.97" cy="387.36" r="1.7"/><circle cx="473.31" cy="387.89" r="1.7"/><circle cx="476.64" cy="388.41" r="1.7"/><circle cx="479.98" cy="388.94" r="1.7"/><circle cx="483.32" cy="389.45" r="1.7"/><circle cx="486.66" cy="389.97" r="1.7"/><circle cx="489.99" cy="390.47" r="1.7"/><circle cx="493.33" cy="390.98" r="1.7"/><circle cx="496.67" cy="391.48" r="1.7"/><circle cx="500.01" cy="391.97" r="1.7"/><circle cx="503.35" cy="392.46" r="1.7"/><circle cx="506.68" cy="392.94" r="1.7"/><circle cx="510.02" cy="393.43" r="1.7"/><circle cx="513.36" cy="393.91" r="1.7"/><circle cx="516.70" cy="394.39" r="1.7"/><circle cx="520.03" cy="394.86" r="1.7"/><circle cx="523.37" cy="395.34" r="1.7"/><circle cx="526.71" cy="395.81" r="1.7"/><circle cx="530.05" cy="396.29" r="1.7"/><circle cx="533.39" cy="396.76" r="1.7"/><circle cx="536.72" cy="397.23" r="1.7"/><circle cx="540.06" cy="397.70" r="1.7"/><circle cx="543.40" cy="398.16" r="1.7"/><circle cx="546.74" cy="398.62" r="1.7"/><circle cx="550.08" cy="399.07" r="1.7"/><circle cx="553.41" cy="399.53" r="1.7"/><circle cx="556.75" cy="399.98" r="1.7"/><circle cx="560.09" cy="400.43" r="1.7"/><circle cx="563.43" cy="400.89" r="1.7"/><circle cx="566.76" cy="401.34" r="1.7"/><circle cx="570.10" cy="401.80" r="1.7"/><circle cx="573.44" cy="402.25" r="1.7"/><circle cx="576.78" cy="402.72" r="1.7"/><circle cx="580.12" cy="403.18" r="1.7"/><circle cx="583.45" cy="403.65" r="1.7"/><circle cx="586.79" cy="404.13" r="1.7"/><circle cx="590.13" cy="404.61" r="1.7"/><circle cx="593.47" cy="405.09" r="1.7"/><circle cx="596.80" cy="405.58" r="1.7"/><circle cx="600.14" cy="406.07" r="1.7"/><circle cx="603.48" cy="406.56" r="1.7"/><circle cx="606.82" cy="407.05" r="1.7"/><circle cx="610.16" cy="407.55" r="1.7"/><circle cx="613.49" cy="408.04" r="1.7"/><circle cx="616.83" cy="408.54" r="1.7"/><circle cx="620.17" cy="409.03" r="1.7"/><circle cx="623.51" cy="409.53" r="1.7"/><circle cx="626.84" cy="410.02" r="1.7"/><circle cx="630.18" cy="410.52" r="1.7"/><circle cx="633.52" cy="411.01" r="1.7"/><circle cx="636.86" cy="411.49" r="1.7"/><circle cx="640.20" cy="411.98" r="1.7"/><circle cx="643.53" cy="412.45" r="1.7"/><circle cx="646.87" cy="412.92" r="1.7"/><circle cx="650.21" cy="413.39" r="1.7"/><circle cx="653.55" cy="413.86" r="1.7"/><circle cx="656.88" cy="414.33" r="1.7"/><circle cx="660.22" cy="414.79" r="1.7"/><circle cx="663.56" cy="415.27" r="1.7"/><circle cx="666.90" cy="415.74" r="1.7"/><circle cx="670.24" cy="416.23" r="1.7"/><circle cx="673.57" cy="416.72" r="1.7"/><circle cx="676.91" cy="417.22" r="1.7"/><circle cx="680.25" cy="417.73" r="1.7"/><circle cx="683.59" cy="418.25" r="1.7"/><circle cx="686.92" cy="418.79" r="1.7"/><circle cx="690.26" cy="419.35" r="1.7"/><circle cx="693.60" cy="419.94" r="1.7"/><circle cx="696.94" cy="420.55" r="1.7"/><circle cx="700.28" cy="421.18" r="1.7"/><circle cx="703.61" cy="421.82" r="1.7"/><circle cx="706.95" cy="422.46" r="1.7"/><circle cx="710.29" cy="423.09" r="1.7"/><circle cx="713.63" cy="423.70" r="1.7"/><circle cx="716.97" cy="424.30" r="1.7"/><circle cx="720.30" cy="424.87" r="1.7"/><circle cx="723.64" cy="425.41" r="1.7"/><circle cx="726.98" cy="425.96" r="1.7"/><circle cx="730.32" cy="426.51" r="1.7"/><circle cx="733.65" cy="427.10" r="1.7"/><circle cx="736.99" cy="427.71" r="1.7"/><circle cx="740.33" cy="428.34" r="1.7"/><circle cx="743.67" cy="428.99" r="1.7"/><circle cx="747.01" cy="429.67" r="1.7"/><circle cx="750.34" cy="430.40" r="1.7"/><circle cx="753.68" cy="431.19" r="1.7"/><circle cx="757.02" cy="432.04" r="1.7"/><circle cx="760.36" cy="432.93" r="1.7"/><circle cx="763.69" cy="433.86" r="1.7"/><circle cx="767.03" cy="434.80" r="1.7"/><circle cx="770.37" cy="435.76" r="1.7"/><circle cx="773.71" cy="436.80" r="1.7"/><circle cx="777.05" cy="438.00" r="1.7"/><circle cx="780.38" cy="439.20" r="1.7"/><circle cx="783.72" cy="440.80" r="1.7"/><circle cx="787.06" cy="442.30" r="1.7"/><circle cx="790.40" cy="444.05" r="1.7"/><circle cx="793.73" cy="446.10" r="1.7"/><circle cx="797.07" cy="448.70" r="1.7"/><circle cx="800.41" cy="452.00" r="1.7"/></g>
<g fill="#ff00ff"><circle cx="149.54" cy="201.50" r="1.7"/><circle cx="152.88" cy="205.40" r="1.7"/><circle cx="156.21" cy="209.20" r="1.7"/><circle cx="159.55" cy="212.80" r="1.7"/><circle cx="162.89" cy="216.30" r="1.7"/><circle cx="166.23" cy="219.60" r="1.7"/><circle cx="169.57" cy="222.72" r="1.7"/><circle cx="172.90" cy="225.70" r="1.7"/><circle cx="176.24" cy="228.57" r="1.7"/><circle cx="179.58" cy="231.34" r="1.7"/><circle cx="182.92" cy="234.00" r="1.7"/><circle cx="186.25" cy="236.58" r="1.7"/><circle cx="189.59" cy="239.10" r="1.7"/><circle cx="192.93" cy="241.56" r="1.7"/><circle cx="196.27" cy="243.93" r="1.7"/><circle cx="199.61" cy="246.20" r="1.7"/><circle cx="202.94" cy="248.39" r="1.7"/><circle cx="206.28" cy="250.50" r="1.7"/><circle cx="209.62" cy="252.54" r="1.7"/><circle cx="212.96" cy="254.50" r="1.7"/><circle cx="216.30" cy="256.40" r="1.7"/><circle cx="219.63" cy="258.21" r="1.7"/><circle cx="222.97" cy="259.93" r="1.7"/><circle cx="226.31" cy="261.60" r="1.7"/><circle cx="229.65" cy="263.24" r="1.7"/><circle cx="232.98" cy="264.86" r="1.7"/><circle cx="236.32" cy="266.45" r="1.7"/><circle cx="239.66" cy="268.02" r="1.7"/><circle cx="243.00" cy="269.56" r="1.7"/><circle cx="246.34" cy="271.07" r="1.7"/><circle cx="249.67" cy="272.55" r="1.7"/><circle cx="253.01" cy="274.00" r="1.7"/><circle cx="256.35" cy="275.42" r="1.7"/><circle cx="259.69" cy="276.83" r="1.7"/><circle cx="263.02" cy="278.22" r="1.7"/><circle cx="266.36" cy="279.58" r="1.7"/><circle cx="269.70" cy="280.91" r="1.7"/><circle cx="273.04" cy="282.19" r="1.7"/><circle cx="276.38" cy="283.42" r="1.7"/><circle cx="279.71" cy="284.60" r="1.7"/><circle cx="283.05" cy="285.72" r="1.7"/><circle cx="286.39" cy="286.78" r="1.7"/><circle cx="289.73" cy="287.81" r="1.7"/><circle cx="293.06" cy="288.80" r="1.7"/><circle cx="296.40" cy="289.77" r="1.7"/><circle cx="299.74" cy="290.74" r="1.7"/><circle cx="303.08" cy="291.71" r="1.7"/><circle cx="306.42" cy="292.70" r="1.7"/><circle cx="309.75" cy="293.71" r="1.7"/><circle cx="313.09" cy="294.73" r="1.7"/><circle cx="316.43" cy="295.75" r="1.7"/><circle cx="319.77" cy="296.76" r="1.7"/><circle cx="323.10" cy="297.74" r="1.7"/><circle cx="326.44" cy="298.69" r="1.7"/><circle cx="329.78" cy="299.60" r="1.7"/><circle cx="333.12" cy="300.47" r="1.7"/><circle cx="336.46" cy="301.33" r="1.7"/><circle cx="339.79" cy="302.16" r="1.7"/><circle cx="343.13" cy="302.99" r="1.7"/><circle cx="346.47" cy="303.79" r="1.7"/><circle cx="349.81" cy="304.59" r="1.7"/><circle cx="353.14" cy="305.37" r="1.7"/><circle cx="356.48" cy="306.13" r="1.7"/><circle cx="359.82" cy="306.89" r="1.7"/><circle cx="363.16" cy="307.63" r="1.7"/><circle cx="366.50" cy="308.36" r="1.7"/><circle cx="369.83" cy="309.08" r="1.7"/><circle cx="373.17" cy="309.79" r="1.7"/><circle cx="376.51" cy="310.49" r="1.7"/><circle cx="379.85" cy="311.17" r="1.7"/><circle cx="383.19" cy="311.85" r="1.7"/><circle cx="386.52" cy="312.52" r="1.7"/><circle cx="389.86" cy="313.17" r="1.7"/><circle cx="393.20" cy="313.81" r="1.7"/><circle cx="396.54" cy="314.45" r="1.7"/><circle cx="399.87" cy="315.07" r="1.7"/><circle cx="403.21" cy="315.69" r="1.7"/><circle cx="406.55" cy="316.30" r="1.7"/><circle cx="409.89" cy="316.90" r="1.7"/><circle cx="413.23" cy="317.50" r="1.7"/><circle cx="416.56" cy="318.10" r="1.7"/><circle cx="419.90" cy="318.69" r="1.7"/><circle cx="423.24" cy="319.27" r="1.7"/><circle cx="426.58" cy="319.86" r="1.7"/><circle cx="429.91" cy="320.44" r="1.7"/><circle cx="433.25" cy="321.02" r="1.7"/><circle cx="436.59" cy="321.60" r="1.7"/><circle cx="439.93" cy="322.17" r="1.7"/><circle cx="443.27" cy="322.74" r="1.7"/><circle cx="446.60" cy="323.30" r="1.7"/><circle cx="449.94" cy="323.86" r="1.7"/><circle cx="453.28" cy="324.42" r="1.7"/><circle cx="456.62" cy="324.97" r="1.7"/><circle cx="459.95" cy="325.52" r="1.7"/><circle cx="463.29" cy="326.06" r="1.7"/><circle cx="466.63" cy="326.60" r="1.7"/><circle cx="469.97" cy="327.14" r="1.7"/><circle cx="473.31" cy="327.67" r="1.7"/><circle cx="476.64" cy="328.20" r="1.7"/><circle cx="479.98" cy="328.73" r="1.7"/><circle cx="483.32" cy="329.26" r="1.7"/><circle cx="486.66" cy="329.78" r="1.7"/><circle cx="489.99" cy="330.30" r="1.7"/><circle cx="493.33" cy="330.82" r="1.7"/><circle cx="496.67" cy="331.33" r="1.7"/><circle cx="500.01" cy="331.84" r="1.7"/><circle cx="503.35" cy="332.35" r="1.7"/><circle cx="506.68" cy="332.85" r="1.7"/><circle cx="510.02" cy="333.35" r="1.7"/><circle cx="513.36" cy="333.85" r="1.7"/><circle cx="516.70" cy="334.35" r="1.7"/><circle cx="520.03" cy="334.84" r="1.7"/><circle cx="523.37" cy="335.32" r="1.7"/><circle cx="526.71" cy="335.81" r="1.7"/><circle cx="530.05" cy="336.28" r="1.7"/><circle cx="533.39" cy="336.76" r="1.7"/><circle cx="536.72" cy="337.23" r="1.7"/><circle cx="540.06" cy="337.69" r="1.7"/><circle cx="543.40" cy="338.14" r="1.7"/><circle cx="546.74" cy="338.58" r="1.7"/><circle cx="550.08" cy="339.02" r="1.7"/><circle cx="553.41" cy="339.46" r="1.7"/><circle cx="556.75" cy="339.89" r="1.7"/><circle cx="560.09" cy="340.32" r="1.7"/><circle cx="563.43" cy="340.75" r="1.7"/><circle cx="566.76" cy="341.19" r="1.7"/><circle cx="570.10" cy="341.63" r="1.7"/><circle cx="573.44" cy="342.07" r="1.7"/><circle cx="576.78" cy="342.52" r="1.7"/><circle cx="580.12" cy="342.98" r="1.7"/><circle cx="583.45" cy="343.45" r="1.7"/><circle cx="586.79" cy="343.93" r="1.7"/><circle cx="590.13" cy="344.42" r="1.7"/><circle cx="593.47" cy="344.92" r="1.7"/><circle cx="596.80" cy="345.42" r="1.7"/><circle cx="600.14" cy="345.93" r="1.7"/><circle cx="603.48" cy="346.45" r="1.7"/><circle cx="606.82" cy="346.96" r="1.7"/><circle cx="610.16" cy="347.48" r="1.7"/><circle cx="613.49" cy="348.01" r="1.7"/><circle cx="616.83" cy="348.53" r="1.7"/><circle cx="620.17" cy="349.05" r="1.7"/><circle cx="623.51" cy="349.57" r="1.7"/><circle cx="626.84" cy="350.08" r="1.7"/><circle cx="630.18" cy="350.59" r="1.7"/><circle cx="633.52" cy="351.10" r="1.7"/><circle cx="636.86" cy="351.60" r="1.7"/><circle cx="640.20" cy="352.09" r="1.7"/><circle cx="643.53" cy="352.57" r="1.7"/><circle cx="646.87" cy="353.05" r="1.7"/><circle cx="650.21" cy="353.52" r="1.7"/><circle cx="653.55" cy="353.99" r="1.7"/><circle cx="656.88" cy="354.46" r="1.7"/><circle cx="660.22" cy="354.93" r="1.7"/><circle cx="663.56" cy="355.40" r="1.7"/><circle cx="666.90" cy="355.88" r="1.7"/><circle cx="670.24" cy="356.36" r="1.7"/><circle cx="673.57" cy="356.85" r="1.7"/><circle cx="676.91" cy="357.34" r="1.7"/><circle cx="680.25" cy="357.85" r="1.7"/><circle cx="683.59" cy="358.36" r="1.7"/><circle cx="686.92" cy="358.89" r="1.7"/><circle cx="690.26" cy="359.44" r="1.7"/><circle cx="693.60" cy="360.01" r="1.7"/><circle cx="696.94" cy="360.59" r="1.7"/><circle cx="700.28" cy="361.19" r="1.7"/><circle cx="703.61" cy="361.79" r="1.7"/><circle cx="706.95" cy="362.40" r="1.7"/><circle cx="710.29" cy="363.01" r="1.7"/><circle cx="713.63" cy="363.61" r="1.7"/><circle cx="716.97" cy="364.20" r="1.7"/><circle cx="720.30" cy="364.78" r="1.7"/><circle cx="723.64" cy="365.35" r="1.7"/><circle cx="726.98" cy="365.92" r="1.7"/><circle cx="730.32" cy="366.50" r="1.7"/><circle cx="733.65" cy="367.10" r="1.7"/><circle cx="736.99" cy="367.72" r="1.7"/><circle cx="740.33" cy="368.34" r="1.7"/><circle cx="743.67" cy="368.99" r="1.7"/><circle cx="747.01" cy="369.67" r="1.7"/><circle cx="750.34" cy="370.40" r="1.7"/><circle cx="753.68" cy="371.20" r="1.7"/><circle cx="757.02" cy="372.07" r="1.7"/><circle cx="760.36" cy="372.99" r="1.7"/><circle cx="763.69" cy="373.94" r="1.7"/><circle cx="767.03" cy="374.90" r="1.7"/><circle cx="770.37" cy="375.86" r="1.7"/><circle cx="773.71" cy="376.90" r="1.7"/><circle cx="777.05" cy="378.10" r="1.7"/><circle cx="780.38" cy="379.40" r="1.7"/><circle cx="783.72" cy="380.80" r="1.7"/><circle cx="787.06" cy="382.40" r="1.7"/><circle cx="790.40" cy="384.20" r="1.7"/><circle cx="793.73" cy="386.20" r="1.7"/><circle cx="797.07" cy="388.80" r="1.7"/><circle cx="800.41" cy="392.06" r="1.7"/></g>
<rect x="105.1" y="732.7" width="709.50" height="437.50" fill="none" stroke="#000" stroke-width="3.0"/>
<g stroke="#000" stroke-width="2.7" fill="none">
<line x1="113.77" y1="1170.2" x2="113.77" y2="1166.40"/>
<line x1="113.77" y1="732.7" x2="113.77" y2="736.50"/>
<line x1="132.84" y1="1170.2" x2="132.84" y2="1163.40"/>
<line x1="132.84" y1="732.7" x2="132.84" y2="739.50"/>
<line x1="151.91" y1="1170.2" x2="151.91" y2="1166.40"/>
<line x1="151.91" y1="732.7" x2="151.91" y2="736.50"/>
<line x1="170.99" y1="1170.2" x2="170.99" y2="1166.40"/>
<line x1="170.99" y1="732.7" x2="170.99" y2="736.50"/>
<line x1="190.06" y1="1170.2" x2="190.06" y2="1166.40"/>
<line x1="190.06" y1="732.7" x2="190.06" y2="736.50"/>
<line x1="209.14" y1="1170.2" x2="209.14" y2="1166.40"/>
<line x1="209.14" y1="732.7" x2="209.14" y2="736.50"/>
<line x1="228.21" y1="1170.2" x2="228.21" y2="1163.40"/>
<line x1="228.21" y1="732.7" x2="228.21" y2="739.50"/>
<line x1="247.28" y1="1170.2" x2="247.28" y2="1166.40"/>
<line x1="247.28" y1="732.7" x2="247.28" y2="736.50"/>
<line x1="266.36" y1="1170.2" x2="266.36" y2="1166.40"/>
<line x1="266.36" y1="732.7" x2="266.36" y2="736.50"/>
<line x1="285.43" y1="1170.2" x2="285.43" y2="1166.40"/>
<line x1="285.43" y1="732.7" x2="285.43" y2="736.50"/>
<line x1="304.51" y1="1170.2" x2="304.51" y2="1166.40"/>
<line x1="304.51" y1="732.7" x2="304.51" y2="736.50"/>
<line x1="323.58" y1="1170.2" x2="323.58" y2="1163.40"/>
<line x1="323.58" y1="732.7" x2="323.58" y2="739.50"/>
<line x1="342.65" y1="1170.2" x2="342.65" y2="1166.40"/>
<line x1="342.65" y1="732.7" x2="342.65" y2="736.50"/>
<line x1="361.73" y1="1170.2" x2="361.73" y2="1166.40"/>
<line x1="361.73" y1="732.7" x2="361.73" y2="736.50"/>
<line x1="380.80" y1="1170.2" x2="380.80" y2="1166.40"/>
<line x1="380.80" y1="732.7" x2="380.80" y2="736.50"/>
<line x1="399.88" y1="1170.2" x2="399.88" y2="1166.40"/>
<line x1="399.88" y1="732.7" x2="399.88" y2="736.50"/>
<line x1="418.95" y1="1170.2" x2="418.95" y2="1163.40"/>
<line x1="418.95" y1="732.7" x2="418.95" y2="739.50"/>
<line x1="438.02" y1="1170.2" x2="438.02" y2="1166.40"/>
<line x1="438.02" y1="732.7" x2="438.02" y2="736.50"/>
<line x1="457.10" y1="1170.2" x2="457.10" y2="1166.40"/>
<line x1="457.10" y1="732.7" x2="457.10" y2="736.50"/>
<line x1="476.17" y1="1170.2" x2="476.17" y2="1166.40"/>
<line x1="476.17" y1="732.7" x2="476.17" y2="736.50"/>
<line x1="495.25" y1="1170.2" x2="495.25" y2="1166.40"/>
<line x1="495.25" y1="732.7" x2="495.25" y2="736.50"/>
<line x1="514.32" y1="1170.2" x2="514.32" y2="1163.40"/>
<line x1="514.32" y1="732.7" x2="514.32" y2="739.50"/>
<line x1="533.39" y1="1170.2" x2="533.39" y2="1166.40"/>
<line x1="533.39" y1="732.7" x2="533.39" y2="736.50"/>
<line x1="552.47" y1="1170.2" x2="552.47" y2="1166.40"/>
<line x1="552.47" y1="732.7" x2="552.47" y2="736.50"/>
<line x1="571.54" y1="1170.2" x2="571.54" y2="1166.40"/>
<line x1="571.54" y1="732.7" x2="571.54" y2="736.50"/>
<line x1="590.62" y1="1170.2" x2="590.62" y2="1166.40"/>
<line x1="590.62" y1="732.7" x2="590.62" y2="736.50"/>
<line x1="609.69" y1="1170.2" x2="609.69" y2="1163.40"/>
<line x1="609.69" y1="732.7" x2="609.69" y2="739.50"/>
<line x1="628.76" y1="1170.2" x2="628.76" y2="1166.40"/>
<line x1="628.76" y1="732.7" x2="628.76" y2="736.50"/>
<line x1="647.84" y1="1170.2" x2="647.84" y2="1166.40"/>
<line x1="647.84" y1="732.7" x2="647.84" y2="736.50"/>
<line x1="666.91" y1="1170.2" x2="666.91" y2="1166.40"/>
<line x1="666.91" y1="732.7" x2="666.91" y2="736.50"/>
<line x1="685.99" y1="1170.2" x2="685.99" y2="1166.40"/>
<line x1="685.99" y1="732.7" x2="685.99" y2="736.50"/>
<line x1="705.06" y1="1170.2" x2="705.06" y2="1163.40"/>
<line x1="705.06" y1="732.7" x2="705.06" y2="739.50"/>
<line x1="724.13" y1="1170.2" x2="724.13" y2="1166.40"/>
<line x1="724.13" y1="732.7" x2="724.13" y2="736.50"/>
<line x1="743.21" y1="1170.2" x2="743.21" y2="1166.40"/>
<line x1="743.21" y1="732.7" x2="743.21" y2="736.50"/>
<line x1="762.28" y1="1170.2" x2="762.28" y2="1166.40"/>
<line x1="762.28" y1="732.7" x2="762.28" y2="736.50"/>
<line x1="781.36" y1="1170.2" x2="781.36" y2="1166.40"/>
<line x1="781.36" y1="732.7" x2="781.36" y2="736.50"/>
<line x1="800.43" y1="1170.2" x2="800.43" y2="1163.40"/>
<line x1="800.43" y1="732.7" x2="800.43" y2="739.50"/>
<line x1="105.1" y1="1161.80" x2="112.50" y2="1161.80"/>
<line x1="814.6" y1="1161.80" x2="807.20" y2="1161.80"/>
<line x1="105.1" y1="1146.93" x2="109.80" y2="1146.93"/>
<line x1="814.6" y1="1146.93" x2="809.90" y2="1146.93"/>
<line x1="105.1" y1="1132.07" x2="109.80" y2="1132.07"/>
<line x1="814.6" y1="1132.07" x2="809.90" y2="1132.07"/>
<line x1="105.1" y1="1117.20" x2="109.80" y2="1117.20"/>
<line x1="814.6" y1="1117.20" x2="809.90" y2="1117.20"/>
<line x1="105.1" y1="1102.34" x2="112.50" y2="1102.34"/>
<line x1="814.6" y1="1102.34" x2="807.20" y2="1102.34"/>
<line x1="105.1" y1="1087.47" x2="109.80" y2="1087.47"/>
<line x1="814.6" y1="1087.47" x2="809.90" y2="1087.47"/>
<line x1="105.1" y1="1072.61" x2="109.80" y2="1072.61"/>
<line x1="814.6" y1="1072.61" x2="809.90" y2="1072.61"/>
<line x1="105.1" y1="1057.74" x2="109.80" y2="1057.74"/>
<line x1="814.6" y1="1057.74" x2="809.90" y2="1057.74"/>
<line x1="105.1" y1="1042.88" x2="112.50" y2="1042.88"/>
<line x1="814.6" y1="1042.88" x2="807.20" y2="1042.88"/>
<line x1="105.1" y1="1028.01" x2="109.80" y2="1028.01"/>
<line x1="814.6" y1="1028.01" x2="809.90" y2="1028.01"/>
<line x1="105.1" y1="1013.15" x2="109.80" y2="1013.15"/>
<line x1="814.6" y1="1013.15" x2="809.90" y2="1013.15"/>
<line x1="105.1" y1="998.28" x2="109.80" y2="998.28"/>
<line x1="814.6" y1="998.28" x2="809.90" y2="998.28"/>
<line x1="105.1" y1="983.42" x2="112.50" y2="983.42"/>
<line x1="814.6" y1="983.42" x2="807.20" y2="983.42"/>
<line x1="105.1" y1="968.55" x2="109.80" y2="968.55"/>
<line x1="814.6" y1="968.55" x2="809.90" y2="968.55"/>
<line x1="105.1" y1="953.69" x2="109.80" y2="953.69"/>
<line x1="814.6" y1="953.69" x2="809.90" y2="953.69"/>
<line x1="105.1" y1="938.82" x2="109.80" y2="938.82"/>
<line x1="814.6" y1="938.82" x2="809.90" y2="938.82"/>
<line x1="105.1" y1="923.96" x2="112.50" y2="923.96"/>
<line x1="814.6" y1="923.96" x2="807.20" y2="923.96"/>
<line x1="105.1" y1="909.09" x2="109.80" y2="909.09"/>
<line x1="814.6" y1="909.09" x2="809.90" y2="909.09"/>
<line x1="105.1" y1="894.23" x2="109.80" y2="894.23"/>
<line x1="814.6" y1="894.23" x2="809.90" y2="894.23"/>
<line x1="105.1" y1="879.37" x2="109.80" y2="879.37"/>
<line x1="814.6" y1="879.37" x2="809.90" y2="879.37"/>
<line x1="105.1" y1="864.50" x2="112.50" y2="864.50"/>
<line x1="814.6" y1="864.50" x2="807.20" y2="864.50"/>
<line x1="105.1" y1="849.63" x2="109.80" y2="849.63"/>
<line x1="814.6" y1="849.63" x2="809.90" y2="849.63"/>
<line x1="105.1" y1="834.77" x2="109.80" y2="834.77"/>
<line x1="814.6" y1="834.77" x2="809.90" y2="834.77"/>
<line x1="105.1" y1="819.90" x2="109.80" y2="819.90"/>
<line x1="814.6" y1="819.90" x2="809.90" y2="819.90"/>
<line x1="105.1" y1="805.04" x2="112.50" y2="805.04"/>
<line x1="814.6" y1="805.04" x2="807.20" y2="805.04"/>
<line x1="105.1" y1="790.17" x2="109.80" y2="790.17"/>
<line x1="814.6" y1="790.17" x2="809.90" y2="790.17"/>
<line x1="105.1" y1="775.31" x2="109.80" y2="775.31"/>
<line x1="814.6" y1="775.31" x2="809.90" y2="775.31"/>
<line x1="105.1" y1="760.44" x2="109.80" y2="760.44"/>
<line x1="814.6" y1="760.44" x2="809.90" y2="760.44"/>
<line x1="105.1" y1="745.58" x2="112.50" y2="745.58"/>
<line x1="814.6" y1="745.58" x2="807.20" y2="745.58"/>
</g>
<text x="88.24" y="1173.10" font-size="29.50" textLength="13.72" lengthAdjust="spacingAndGlyphs">0</text>
<text x="88.79" y="1113.64" font-size="29.50" textLength="13.72" lengthAdjust="spacingAndGlyphs">2</text>
<text x="87.69" y="1054.18" font-size="29.50" textLength="13.72" lengthAdjust="spacingAndGlyphs">4</text>
<text x="87.97" y="994.72" font-size="29.50" textLength="13.72" lengthAdjust="spacingAndGlyphs">6</text>
<text x="88.24" y="935.26" font-size="29.50" textLength="13.72" lengthAdjust="spacingAndGlyphs">8</text>
<text x="74.53" y="875.80" font-size="29.50" textLength="27.43" lengthAdjust="spacingAndGlyphs">10</text>
<text x="75.07" y="816.34" font-size="29.50" textLength="27.43" lengthAdjust="spacingAndGlyphs">12</text>
<text x="73.98" y="756.88" font-size="29.50" textLength="27.44" lengthAdjust="spacingAndGlyphs">14</text>
<text x="126.34" y="1204.80" font-size="29.50" textLength="13.72" lengthAdjust="spacingAndGlyphs">3</text>
<text x="221.85" y="1204.80" font-size="29.50" textLength="13.72" lengthAdjust="spacingAndGlyphs">4</text>
<text x="316.95" y="1204.80" font-size="29.50" textLength="13.72" lengthAdjust="spacingAndGlyphs">5</text>
<text x="412.39" y="1204.80" font-size="29.50" textLength="13.72" lengthAdjust="spacingAndGlyphs">6</text>
<text x="507.41" y="1204.80" font-size="29.50" textLength="13.72" lengthAdjust="spacingAndGlyphs">7</text>
<text x="603.33" y="1204.80" font-size="29.50" textLength="13.72" lengthAdjust="spacingAndGlyphs">8</text>
<text x="698.84" y="1204.80" font-size="29.50" textLength="13.72" lengthAdjust="spacingAndGlyphs">9</text>
<text x="786.53" y="1204.80" font-size="29.50" textLength="27.44" lengthAdjust="spacingAndGlyphs">10</text>
<path d="M118.90 754.90 l13.7 13.9 M132.60 754.90 l-13.7 13.9" stroke="#000" stroke-width="1.2" fill="none"/>
<text x="136.27" y="769.90" font-size="30.20" textLength="26.25" lengthAdjust="spacingAndGlyphs">10</text>
<line x1="163.90" y1="751.80" x2="178.20" y2="751.80" stroke="#000" stroke-width="1.2"/>
<text x="180.19" y="757.80" font-size="24.00" textLength="11.36" lengthAdjust="spacingAndGlyphs">2</text>
<g fill="#0000ff"><circle cx="132.84" cy="1146.64" r="2.1"/><circle cx="136.18" cy="1146.55" r="2.1"/><circle cx="139.52" cy="1146.46" r="2.1"/><circle cx="142.85" cy="1146.37" r="2.1"/><circle cx="146.19" cy="1146.28" r="2.1"/><circle cx="149.53" cy="1146.18" r="2.1"/><circle cx="152.87" cy="1146.09" r="2.1"/><circle cx="156.21" cy="1146.00" r="2.1"/><circle cx="159.54" cy="1145.91" r="2.1"/><circle cx="162.88" cy="1145.82" r="2.1"/><circle cx="166.22" cy="1145.72" r="2.1"/><circle cx="169.56" cy="1145.63" r="2.1"/><circle cx="172.90" cy="1145.54" r="2.1"/><circle cx="176.23" cy="1145.44" r="2.1"/><circle cx="179.57" cy="1145.35" r="2.1"/><circle cx="182.91" cy="1145.26" r="2.1"/><circle cx="186.25" cy="1145.17" r="2.1"/><circle cx="189.59" cy="1145.07" r="2.1"/><circle cx="192.92" cy="1144.98" r="2.1"/><circle cx="196.26" cy="1144.88" r="2.1"/><circle cx="199.60" cy="1144.79" r="2.1"/><circle cx="202.94" cy="1144.70" r="2.1"/><circle cx="206.27" cy="1144.60" r="2.1"/><circle cx="209.61" cy="1144.51" r="2.1"/><circle cx="212.95" cy="1144.41" r="2.1"/><circle cx="216.29" cy="1144.32" r="2.1"/><circle cx="219.63" cy="1144.23" r="2.1"/><circle cx="222.96" cy="1144.13" r="2.1"/><circle cx="226.30" cy="1144.04" r="2.1"/><circle cx="229.64" cy="1143.94" r="2.1"/><circle cx="232.98" cy="1143.85" r="2.1"/><circle cx="236.32" cy="1143.75" r="2.1"/><circle cx="239.65" cy="1143.66" r="2.1"/><circle cx="242.99" cy="1143.56" r="2.1"/><circle cx="246.33" cy="1143.47" r="2.1"/><circle cx="249.67" cy="1143.37" r="2.1"/><circle cx="253.01" cy="1143.27" r="2.1"/><circle cx="256.34" cy="1143.18" r="2.1"/><circle cx="259.68" cy="1143.08" r="2.1"/><circle cx="263.02" cy="1142.99" r="2.1"/><circle cx="266.36" cy="1142.89" r="2.1"/><circle cx="269.70" cy="1142.79" r="2.1"/><circle cx="273.03" cy="1142.70" r="2.1"/><circle cx="276.37" cy="1142.60" r="2.1"/><circle cx="279.71" cy="1142.50" r="2.1"/><circle cx="283.05" cy="1142.41" r="2.1"/><circle cx="286.39" cy="1142.31" r="2.1"/><circle cx="289.72" cy="1142.21" r="2.1"/><circle cx="293.06" cy="1142.11" r="2.1"/><circle cx="296.40" cy="1142.02" r="2.1"/><circle cx="299.74" cy="1141.92" r="2.1"/><circle cx="303.08" cy="1141.82" r="2.1"/><circle cx="306.41" cy="1141.72" r="2.1"/><circle cx="309.75" cy="1141.63" r="2.1"/><circle cx="313.09" cy="1141.53" r="2.1"/><circle cx="316.43" cy="1141.43" r="2.1"/><circle cx="319.77" cy="1141.33" r="2.1"/><circle cx="323.10" cy="1141.23" r="2.1"/><circle cx="326.44" cy="1141.13" r="2.1"/><circle cx="329.78" cy="1141.04" r="2.1"/><circle cx="333.12" cy="1140.94" r="2.1"/><circle cx="336.45" cy="1140.84" r="2.1"/><circle cx="339.79" cy="1140.74" r="2.1"/><circle cx="343.13" cy="1140.64" r="2.1"/><circle cx="346.47" cy="1140.54" r="2.1"/><circle cx="349.81" cy="1140.44" r="2.1"/><circle cx="353.14" cy="1140.34" r="2.1"/><circle cx="356.48" cy="1140.24" r="2.1"/><circle cx="359.82" cy="1140.14" r="2.1"/><circle cx="363.16" cy="1140.04" r="2.1"/><circle cx="366.50" cy="1139.94" r="2.1"/><circle cx="369.83" cy="1139.84" r="2.1"/><circle cx="373.17" cy="1139.74" r="2.1"/><circle cx="376.51" cy="1139.64" r="2.1"/><circle cx="379.85" cy="1139.54" r="2.1"/><circle cx="383.19" cy="1139.44" r="2.1"/><circle cx="386.52" cy="1139.34" r="2.1"/><circle cx="389.86" cy="1139.24" r="2.1"/><circle cx="393.20" cy="1139.14" r="2.1"/><circle cx="396.54" cy="1139.04" r="2.1"/><circle cx="399.88" cy="1138.93" r="2.1"/><circle cx="403.21" cy="1138.83" r="2.1"/><circle cx="406.55" cy="1138.73" r="2.1"/><circle cx="409.89" cy="1138.63" r="2.1"/><circle cx="413.23" cy="1138.53" r="2.1"/><circle cx="416.57" cy="1138.43" r="2.1"/><circle cx="419.90" cy="1138.32" r="2.1"/><circle cx="423.24" cy="1138.22" r="2.1"/><circle cx="426.58" cy="1138.12" r="2.1"/><circle cx="429.92" cy="1138.02" r="2.1"/><circle cx="433.26" cy="1137.91" r="2.1"/><circle cx="436.59" cy="1137.81" r="2.1"/><circle cx="439.93" cy="1137.71" r="2.1"/><circle cx="443.27" cy="1137.60" r="2.1"/><circle cx="446.61" cy="1137.50" r="2.1"/><circle cx="449.95" cy="1137.40" r="2.1"/><circle cx="453.28" cy="1137.30" r="2.1"/><circle cx="456.62" cy="1137.19" r="2.1"/><circle cx="459.96" cy="1137.09" r="2.1"/><circle cx="463.30" cy="1136.98" r="2.1"/><circle cx="466.63" cy="1136.88" r="2.1"/><circle cx="469.97" cy="1136.78" r="2.1"/><circle cx="473.31" cy="1136.67" r="2.1"/><circle cx="476.65" cy="1136.57" r="2.1"/><circle cx="479.99" cy="1136.46" r="2.1"/><circle cx="483.32" cy="1136.36" r="2.1"/><circle cx="486.66" cy="1136.25" r="2.1"/><circle cx="490.00" cy="1136.15" r="2.1"/><circle cx="493.34" cy="1136.04" r="2.1"/><circle cx="496.68" cy="1135.94" r="2.1"/><circle cx="500.01" cy="1135.83" r="2.1"/><circle cx="503.35" cy="1135.73" r="2.1"/><circle cx="506.69" cy="1135.62" r="2.1"/><circle cx="510.03" cy="1135.52" r="2.1"/><circle cx="513.37" cy="1135.41" r="2.1"/><circle cx="516.70" cy="1135.31" r="2.1"/><circle cx="520.04" cy="1135.20" r="2.1"/><circle cx="523.38" cy="1135.09" r="2.1"/><circle cx="526.72" cy="1134.99" r="2.1"/><circle cx="530.06" cy="1134.88" r="2.1"/><circle cx="533.39" cy="1134.78" r="2.1"/><circle cx="536.73" cy="1134.67" r="2.1"/><circle cx="540.07" cy="1134.56" r="2.1"/><circle cx="543.41" cy="1134.46" r="2.1"/><circle cx="546.75" cy="1134.35" r="2.1"/><circle cx="550.08" cy="1134.24" r="2.1"/><circle cx="553.42" cy="1134.13" r="2.1"/><circle cx="556.76" cy="1134.03" r="2.1"/><circle cx="560.10" cy="1133.92" r="2.1"/><circle cx="563.44" cy="1133.81" r="2.1"/><circle cx="566.77" cy="1133.70" r="2.1"/><circle cx="570.11" cy="1133.60" r="2.1"/><circle cx="573.45" cy="1133.49" r="2.1"/><circle cx="576.79" cy="1133.38" r="2.1"/><circle cx="580.13" cy="1133.27" r="2.1"/><circle cx="583.46" cy="1133.16" r="2.1"/><circle cx="586.80" cy="1133.06" r="2.1"/><circle cx="590.14" cy="1132.95" r="2.1"/><circle cx="593.48" cy="1132.84" r="2.1"/><circle cx="596.82" cy="1132.73" r="2.1"/><circle cx="600.15" cy="1132.62" r="2.1"/><circle cx="603.49" cy="1132.51" r="2.1"/><circle cx="606.83" cy="1132.40" r="2.1"/><circle cx="610.17" cy="1132.29" r="2.1"/><circle cx="613.50" cy="1132.18" r="2.1"/><circle cx="616.84" cy="1132.07" r="2.1"/><circle cx="620.18" cy="1131.96" r="2.1"/><circle cx="623.52" cy="1131.85" r="2.1"/><circle cx="626.86" cy="1131.74" r="2.1"/><circle cx="630.19" cy="1131.63" r="2.1"/><circle cx="633.53" cy="1131.52" r="2.1"/><circle cx="636.87" cy="1131.41" r="2.1"/><circle cx="640.21" cy="1131.30" r="2.1"/><circle cx="643.55" cy="1131.19" r="2.1"/><circle cx="646.88" cy="1131.08" r="2.1"/><circle cx="650.22" cy="1130.97" r="2.1"/><circle cx="653.56" cy="1130.86" r="2.1"/><circle cx="656.90" cy="1130.75" r="2.1"/><circle cx="660.24" cy="1130.64" r="2.1"/><circle cx="663.57" cy="1130.53" r="2.1"/><circle cx="666.91" cy="1130.41" r="2.1"/><circle cx="670.25" cy="1130.30" r="2.1"/><circle cx="673.59" cy="1130.19" r="2.1"/><circle cx="676.93" cy="1130.08" r="2.1"/><circle cx="680.26" cy="1129.97" r="2.1"/><circle cx="683.60" cy="1129.86" r="2.1"/><circle cx="686.94" cy="1129.74" r="2.1"/><circle cx="690.28" cy="1129.63" r="2.1"/><circle cx="693.62" cy="1129.52" r="2.1"/><circle cx="696.95" cy="1129.41" r="2.1"/><circle cx="700.29" cy="1129.29" r="2.1"/><circle cx="703.63" cy="1129.18" r="2.1"/><circle cx="706.97" cy="1129.07" r="2.1"/><circle cx="710.31" cy="1128.95" r="2.1"/><circle cx="713.64" cy="1128.84" r="2.1"/><circle cx="716.98" cy="1128.73" r="2.1"/><circle cx="720.32" cy="1128.61" r="2.1"/><circle cx="723.66" cy="1128.50" r="2.1"/><circle cx="727.00" cy="1128.39" r="2.1"/><circle cx="730.33" cy="1128.27" r="2.1"/><circle cx="733.67" cy="1128.16" r="2.1"/><circle cx="737.01" cy="1128.04" r="2.1"/><circle cx="740.35" cy="1127.93" r="2.1"/><circle cx="743.68" cy="1127.82" r="2.1"/><circle cx="747.02" cy="1127.70" r="2.1"/><circle cx="750.36" cy="1127.59" r="2.1"/><circle cx="753.70" cy="1127.47" r="2.1"/><circle cx="757.04" cy="1127.36" r="2.1"/><circle cx="760.37" cy="1127.24" r="2.1"/><circle cx="763.71" cy="1127.13" r="2.1"/><circle cx="767.05" cy="1127.01" r="2.1"/><circle cx="770.39" cy="1126.90" r="2.1"/><circle cx="773.73" cy="1126.78" r="2.1"/><circle cx="777.06" cy="1126.66" r="2.1"/><circle cx="780.40" cy="1126.55" r="2.1"/><circle cx="783.74" cy="1126.43" r="2.1"/><circle cx="787.08" cy="1126.32" r="2.1"/><circle cx="790.42" cy="1126.20" r="2.1"/><circle cx="793.75" cy="1126.08" r="2.1"/><circle cx="797.09" cy="1125.97" r="2.1"/><circle cx="800.43" cy="1125.85" r="2.1"/></g>
<g fill="#ff0000"><circle cx="132.84" cy="1140.01" r="2.1"/><circle cx="136.18" cy="1139.89" r="2.1"/><circle cx="139.52" cy="1139.76" r="2.1"/><circle cx="142.85" cy="1139.64" r="2.1"/><circle cx="146.19" cy="1139.51" r="2.1"/><circle cx="149.53" cy="1139.39" r="2.1"/><circle cx="152.87" cy="1139.26" r="2.1"/><circle cx="156.21" cy="1139.13" r="2.1"/><circle cx="159.54" cy="1139.01" r="2.1"/><circle cx="162.88" cy="1138.88" r="2.1"/><circle cx="166.22" cy="1138.75" r="2.1"/><circle cx="169.56" cy="1138.63" r="2.1"/><circle cx="172.90" cy="1138.50" r="2.1"/><circle cx="176.23" cy="1138.37" r="2.1"/><circle cx="179.57" cy="1138.24" r="2.1"/><circle cx="182.91" cy="1138.12" r="2.1"/><circle cx="186.25" cy="1137.99" r="2.1"/><circle cx="189.59" cy="1137.86" r="2.1"/><circle cx="192.92" cy="1137.73" r="2.1"/><circle cx="196.26" cy="1137.60" r="2.1"/><circle cx="199.60" cy="1137.47" r="2.1"/><circle cx="202.94" cy="1137.34" r="2.1"/><circle cx="206.27" cy="1137.21" r="2.1"/><circle cx="209.61" cy="1137.08" r="2.1"/><circle cx="212.95" cy="1136.95" r="2.1"/><circle cx="216.29" cy="1136.82" r="2.1"/><circle cx="219.63" cy="1136.69" r="2.1"/><circle cx="222.96" cy="1136.56" r="2.1"/><circle cx="226.30" cy="1136.43" r="2.1"/><circle cx="229.64" cy="1136.30" r="2.1"/><circle cx="232.98" cy="1136.17" r="2.1"/><circle cx="236.32" cy="1136.04" r="2.1"/><circle cx="239.65" cy="1135.90" r="2.1"/><circle cx="242.99" cy="1135.77" r="2.1"/><circle cx="246.33" cy="1135.64" r="2.1"/><circle cx="249.67" cy="1135.51" r="2.1"/><circle cx="253.01" cy="1135.37" r="2.1"/><circle cx="256.34" cy="1135.24" r="2.1"/><circle cx="259.68" cy="1135.11" r="2.1"/><circle cx="263.02" cy="1134.98" r="2.1"/><circle cx="266.36" cy="1134.84" r="2.1"/><circle cx="269.70" cy="1134.71" r="2.1"/><circle cx="273.03" cy="1134.57" r="2.1"/><circle cx="276.37" cy="1134.44" r="2.1"/><circle cx="279.71" cy="1134.31" r="2.1"/><circle cx="283.05" cy="1134.17" r="2.1"/><circle cx="286.39" cy="1134.04" r="2.1"/><circle cx="289.72" cy="1133.90" r="2.1"/><circle cx="293.06" cy="1133.76" r="2.1"/><circle cx="296.40" cy="1133.63" r="2.1"/><circle cx="299.74" cy="1133.49" r="2.1"/><circle cx="303.08" cy="1133.36" r="2.1"/><circle cx="306.41" cy="1133.22" r="2.1"/><circle cx="309.75" cy="1133.08" r="2.1"/><circle cx="313.09" cy="1132.95" r="2.1"/><circle cx="316.43" cy="1132.81" r="2.1"/><circle cx="319.77" cy="1132.67" r="2.1"/><circle cx="323.10" cy="1132.54" r="2.1"/><circle cx="326.44" cy="1132.40" r="2.1"/><circle cx="329.78" cy="1132.26" r="2.1"/><circle cx="333.12" cy="1132.12" r="2.1"/><circle cx="336.45" cy="1131.98" r="2.1"/><circle cx="339.79" cy="1131.85" r="2.1"/><circle cx="343.13" cy="1131.71" r="2.1"/><circle cx="346.47" cy="1131.57" r="2.1"/><circle cx="349.81" cy="1131.43" r="2.1"/><circle cx="353.14" cy="1131.29" r="2.1"/><circle cx="356.48" cy="1131.15" r="2.1"/><circle cx="359.82" cy="1131.01" r="2.1"/><circle cx="363.16" cy="1130.87" r="2.1"/><circle cx="366.50" cy="1130.73" r="2.1"/><circle cx="369.83" cy="1130.59" r="2.1"/><circle cx="373.17" cy="1130.45" r="2.1"/><circle cx="376.51" cy="1130.31" r="2.1"/><circle cx="379.85" cy="1130.17" r="2.1"/><circle cx="383.19" cy="1130.03" r="2.1"/><circle cx="386.52" cy="1129.88" r="2.1"/><circle cx="389.86" cy="1129.74" r="2.1"/><circle cx="393.20" cy="1129.60" r="2.1"/><circle cx="396.54" cy="1129.46" r="2.1"/><circle cx="399.88" cy="1129.32" r="2.1"/><circle cx="403.21" cy="1129.17" r="2.1"/><circle cx="406.55" cy="1129.03" r="2.1"/><circle cx="409.89" cy="1128.89" r="2.1"/><circle cx="413.23" cy="1128.74" r="2.1"/><circle cx="416.57" cy="1128.60" r="2.1"/><circle cx="419.90" cy="1128.46" r="2.1"/><circle cx="423.24" cy="1128.31" r="2.1"/><circle cx="426.58" cy="1128.17" r="2.1"/><circle cx="429.92" cy="1128.02" r="2.1"/><circle cx="433.26" cy="1127.88" r="2.1"/><circle cx="436.59" cy="1127.73" r="2.1"/><circle cx="439.93" cy="1127.59" r="2.1"/><circle cx="443.27" cy="1127.44" r="2.1"/><circle cx="446.61" cy="1127.30" r="2.1"/><circle cx="449.95" cy="1127.15" r="2.1"/><circle cx="453.28" cy="1127.01" r="2.1"/><circle cx="456.62" cy="1126.86" r="2.1"/><circle cx="459.96" cy="1126.71" r="2.1"/><circle cx="463.30" cy="1126.57" r="2.1"/><circle cx="466.63" cy="1126.42" r="2.1"/><circle cx="469.97" cy="1126.27" r="2.1"/><circle cx="473.31" cy="1126.13" r="2.1"/><circle cx="476.65" cy="1125.98" r="2.1"/><circle cx="479.99" cy="1125.83" r="2.1"/><circle cx="483.32" cy="1125.68" r="2.1"/><circle cx="486.66" cy="1125.53" r="2.1"/><circle cx="490.00" cy="1125.39" r="2.1"/><circle cx="493.34" cy="1125.24" r="2.1"/><circle cx="496.68" cy="1125.09" r="2.1"/><circle cx="500.01" cy="1124.94" r="2.1"/><circle cx="503.35" cy="1124.79" r="2.1"/><circle cx="506.69" cy="1124.64" r="2.1"/><circle cx="510.03" cy="1124.49" r="2.1"/><circle cx="513.37" cy="1124.34" r="2.1"/><circle cx="516.70" cy="1124.19" r="2.1"/><circle cx="520.04" cy="1124.04" r="2.1"/><circle cx="523.38" cy="1123.89" r="2.1"/><circle cx="526.72" cy="1123.74" r="2.1"/><circle cx="530.06" cy="1123.59" r="2.1"/><circle cx="533.39" cy="1123.44" r="2.1"/><circle cx="536.73" cy="1123.28" r="2.1"/><circle cx="540.07" cy="1123.13" r="2.1"/><circle cx="543.41" cy="1122.98" r="2.1"/><circle cx="546.75" cy="1122.83" r="2.1"/><circle cx="550.08" cy="1122.68" r="2.1"/><circle cx="553.42" cy="1122.52" r="2.1"/><circle cx="556.76" cy="1122.37" r="2.1"/><circle cx="560.10" cy="1122.22" r="2.1"/><circle cx="563.44" cy="1122.06" r="2.1"/><circle cx="566.77" cy="1121.91" r="2.1"/><circle cx="570.11" cy="1121.76" r="2.1"/><circle cx="573.45" cy="1121.60" r="2.1"/><circle cx="576.79" cy="1121.45" r="2.1"/><circle cx="580.13" cy="1121.29" r="2.1"/><circle cx="583.46" cy="1121.14" r="2.1"/><circle cx="586.80" cy="1120.98" r="2.1"/><circle cx="590.14" cy="1120.83" r="2.1"/><circle cx="593.48" cy="1120.67" r="2.1"/><circle cx="596.82" cy="1120.52" r="2.1"/><circle cx="600.15" cy="1120.36" r="2.1"/><circle cx="603.49" cy="1120.21" r="2.1"/><circle cx="606.83" cy="1120.05" r="2.1"/><circle cx="610.17" cy="1119.89" r="2.1"/><circle cx="613.50" cy="1119.74" r="2.1"/><circle cx="616.84" cy="1119.58" r="2.1"/><circle cx="620.18" cy="1119.42" r="2.1"/><circle cx="623.52" cy="1119.27" r="2.1"/><circle cx="626.86" cy="1119.11" r="2.1"/><circle cx="630.19" cy="1118.95" r="2.1"/><circle cx="633.53" cy="1118.79" r="2.1"/><circle cx="636.87" cy="1118.64" r="2.1"/><circle cx="640.21" cy="1118.48" r="2.1"/><circle cx="643.55" cy="1118.32" r="2.1"/><circle cx="646.88" cy="1118.16" r="2.1"/><circle cx="650.22" cy="1118.00" r="2.1"/><circle cx="653.56" cy="1117.84" r="2.1"/><circle cx="656.90" cy="1117.68" r="2.1"/><circle cx="660.24" cy="1117.52" r="2.1"/><circle cx="663.57" cy="1117.36" r="2.1"/><circle cx="666.91" cy="1117.20" r="2.1"/><circle cx="670.25" cy="1117.04" r="2.1"/><circle cx="673.59" cy="1116.88" r="2.1"/><circle cx="676.93" cy="1116.72" r="2.1"/><circle cx="680.26" cy="1116.56" r="2.1"/><circle cx="683.60" cy="1116.40" r="2.1"/><circle cx="686.94" cy="1116.24" r="2.1"/><circle cx="690.28" cy="1116.07" r="2.1"/><circle cx="693.62" cy="1115.91" r="2.1"/><circle cx="696.95" cy="1115.75" r="2.1"/><circle cx="700.29" cy="1115.59" r="2.1"/><circle cx="703.63" cy="1115.43" r="2.1"/><circle cx="706.97" cy="1115.26" r="2.1"/><circle cx="710.31" cy="1115.10" r="2.1"/><circle cx="713.64" cy="1114.94" r="2.1"/><circle cx="716.98" cy="1114.77" r="2.1"/><circle cx="720.32" cy="1114.61" r="2.1"/><circle cx="723.66" cy="1114.45" r="2.1"/><circle cx="727.00" cy="1114.28" r="2.1"/><circle cx="730.33" cy="1114.12" r="2.1"/><circle cx="733.67" cy="1113.95" r="2.1"/><circle cx="737.01" cy="1113.79" r="2.1"/><circle cx="740.35" cy="1113.62" r="2.1"/><circle cx="743.68" cy="1113.46" r="2.1"/><circle cx="747.02" cy="1113.29" r="2.1"/><circle cx="750.36" cy="1113.13" r="2.1"/><circle cx="753.70" cy="1112.96" r="2.1"/><circle cx="757.04" cy="1112.79" r="2.1"/><circle cx="760.37" cy="1112.63" r="2.1"/><circle cx="763.71" cy="1112.46" r="2.1"/><circle cx="767.05" cy="1112.29" r="2.1"/><circle cx="770.39" cy="1112.13" r="2.1"/><circle cx="773.73" cy="1111.96" r="2.1"/><circle cx="777.06" cy="1111.79" r="2.1"/><circle cx="780.40" cy="1111.62" r="2.1"/><circle cx="783.74" cy="1111.46" r="2.1"/><circle cx="787.08" cy="1111.29" r="2.1"/><circle cx="790.42" cy="1111.12" r="2.1"/><circle cx="793.75" cy="1110.95" r="2.1"/><circle cx="797.09" cy="1110.78" r="2.1"/><circle cx="800.43" cy="1110.61" r="2.1"/></g>
<g fill="#808080"><circle cx="132.84" cy="1104.06" r="2.1"/><circle cx="136.18" cy="1103.73" r="2.1"/><circle cx="139.52" cy="1103.40" r="2.1"/><circle cx="142.85" cy="1103.07" r="2.1"/><circle cx="146.19" cy="1102.74" r="2.1"/><circle cx="149.53" cy="1102.41" r="2.1"/><circle cx="152.87" cy="1102.08" r="2.1"/><circle cx="156.21" cy="1101.75" r="2.1"/><circle cx="159.54" cy="1101.42" r="2.1"/><circle cx="162.88" cy="1101.08" r="2.1"/><circle cx="166.22" cy="1100.75" r="2.1"/><circle cx="169.56" cy="1100.42" r="2.1"/><circle cx="172.90" cy="1100.08" r="2.1"/><circle cx="176.23" cy="1099.75" r="2.1"/><circle cx="179.57" cy="1099.41" r="2.1"/><circle cx="182.91" cy="1099.07" r="2.1"/><circle cx="186.25" cy="1098.73" r="2.1"/><circle cx="189.59" cy="1098.40" r="2.1"/><circle cx="192.92" cy="1098.06" r="2.1"/><circle cx="196.26" cy="1097.72" r="2.1"/><circle cx="199.60" cy="1097.38" r="2.1"/><circle cx="202.94" cy="1097.04" r="2.1"/><circle cx="206.27" cy="1096.69" r="2.1"/><circle cx="209.61" cy="1096.35" r="2.1"/><circle cx="212.95" cy="1096.01" r="2.1"/><circle cx="216.29" cy="1095.67" r="2.1"/><circle cx="219.63" cy="1095.32" r="2.1"/><circle cx="222.96" cy="1094.98" r="2.1"/><circle cx="226.30" cy="1094.63" r="2.1"/><circle cx="229.64" cy="1094.28" r="2.1"/><circle cx="232.98" cy="1093.94" r="2.1"/><circle cx="236.32" cy="1093.59" r="2.1"/><circle cx="239.65" cy="1093.24" r="2.1"/><circle cx="242.99" cy="1092.89" r="2.1"/><circle cx="246.33" cy="1092.54" r="2.1"/><circle cx="249.67" cy="1092.19" r="2.1"/><circle cx="253.01" cy="1091.84" r="2.1"/><circle cx="256.34" cy="1091.49" r="2.1"/><circle cx="259.68" cy="1091.14" r="2.1"/><circle cx="263.02" cy="1090.79" r="2.1"/><circle cx="266.36" cy="1090.43" r="2.1"/><circle cx="269.70" cy="1090.08" r="2.1"/><circle cx="273.03" cy="1089.72" r="2.1"/><circle cx="276.37" cy="1089.37" r="2.1"/><circle cx="279.71" cy="1089.01" r="2.1"/><circle cx="283.05" cy="1088.66" r="2.1"/><circle cx="286.39" cy="1088.30" r="2.1"/><circle cx="289.72" cy="1087.94" r="2.1"/><circle cx="293.06" cy="1087.58" r="2.1"/><circle cx="296.40" cy="1087.22" r="2.1"/><circle cx="299.74" cy="1086.86" r="2.1"/><circle cx="303.08" cy="1086.50" r="2.1"/><circle cx="306.41" cy="1086.14" r="2.1"/><circle cx="309.75" cy="1085.78" r="2.1"/><circle cx="313.09" cy="1085.41" r="2.1"/><circle cx="316.43" cy="1085.05" r="2.1"/><circle cx="319.77" cy="1084.69" r="2.1"/><circle cx="323.10" cy="1084.32" r="2.1"/><circle cx="326.44" cy="1083.96" r="2.1"/><circle cx="329.78" cy="1083.59" r="2.1"/><circle cx="333.12" cy="1083.22" r="2.1"/><circle cx="336.45" cy="1082.86" r="2.1"/><circle cx="339.79" cy="1082.49" r="2.1"/><circle cx="343.13" cy="1082.12" r="2.1"/><circle cx="346.47" cy="1081.75" r="2.1"/><circle cx="349.81" cy="1081.38" r="2.1"/><circle cx="353.14" cy="1081.01" r="2.1"/><circle cx="356.48" cy="1080.64" r="2.1"/><circle cx="359.82" cy="1080.27" r="2.1"/><circle cx="363.16" cy="1079.90" r="2.1"/><circle cx="366.50" cy="1079.52" r="2.1"/><circle cx="369.83" cy="1079.15" r="2.1"/><circle cx="373.17" cy="1078.77" r="2.1"/><circle cx="376.51" cy="1078.40" r="2.1"/><circle cx="379.85" cy="1078.02" r="2.1"/><circle cx="383.19" cy="1077.65" r="2.1"/><circle cx="386.52" cy="1077.27" r="2.1"/><circle cx="389.86" cy="1076.89" r="2.1"/><circle cx="393.20" cy="1076.51" r="2.1"/><circle cx="396.54" cy="1076.13" r="2.1"/><circle cx="399.88" cy="1075.75" r="2.1"/><circle cx="403.21" cy="1075.37" r="2.1"/><circle cx="406.55" cy="1074.99" r="2.1"/><circle cx="409.89" cy="1074.61" r="2.1"/><circle cx="413.23" cy="1074.23" r="2.1"/><circle cx="416.57" cy="1073.84" r="2.1"/><circle cx="419.90" cy="1073.46" r="2.1"/><circle cx="423.24" cy="1073.08" r="2.1"/><circle cx="426.58" cy="1072.69" r="2.1"/><circle cx="429.92" cy="1072.31" r="2.1"/><circle cx="433.26" cy="1071.92" r="2.1"/><circle cx="436.59" cy="1071.53" r="2.1"/><circle cx="439.93" cy="1071.14" r="2.1"/><circle cx="443.27" cy="1070.76" r="2.1"/><circle cx="446.61" cy="1070.37" r="2.1"/><circle cx="449.95" cy="1069.98" r="2.1"/><circle cx="453.28" cy="1069.59" r="2.1"/><circle cx="456.62" cy="1069.20" r="2.1"/><circle cx="459.96" cy="1068.80" r="2.1"/><circle cx="463.30" cy="1068.41" r="2.1"/><circle cx="466.63" cy="1068.02" r="2.1"/><circle cx="469.97" cy="1067.62" r="2.1"/><circle cx="473.31" cy="1067.23" r="2.1"/><circle cx="476.65" cy="1066.84" r="2.1"/><circle cx="479.99" cy="1066.44" r="2.1"/><circle cx="483.32" cy="1066.04" r="2.1"/><circle cx="486.66" cy="1065.65" r="2.1"/><circle cx="490.00" cy="1065.25" r="2.1"/><circle cx="493.34" cy="1064.85" r="2.1"/><circle cx="496.68" cy="1064.45" r="2.1"/><circle cx="500.01" cy="1064.05" r="2.1"/><circle cx="503.35" cy="1063.65" r="2.1"/><circle cx="506.69" cy="1063.25" r="2.1"/><circle cx="510.03" cy="1062.85" r="2.1"/><circle cx="513.37" cy="1062.45" r="2.1"/><circle cx="516.70" cy="1062.04" r="2.1"/><circle cx="520.04" cy="1061.64" r="2.1"/><circle cx="523.38" cy="1061.24" r="2.1"/><circle cx="526.72" cy="1060.83" r="2.1"/><circle cx="530.06" cy="1060.43" r="2.1"/><circle cx="533.39" cy="1060.02" r="2.1"/><circle cx="536.73" cy="1059.61" r="2.1"/><circle cx="540.07" cy="1059.21" r="2.1"/><circle cx="543.41" cy="1058.80" r="2.1"/><circle cx="546.75" cy="1058.39" r="2.1"/><circle cx="550.08" cy="1057.98" r="2.1"/><circle cx="553.42" cy="1057.57" r="2.1"/><circle cx="556.76" cy="1057.16" r="2.1"/><circle cx="560.10" cy="1056.75" r="2.1"/><circle cx="563.44" cy="1056.33" r="2.1"/><circle cx="566.77" cy="1055.92" r="2.1"/><circle cx="570.11" cy="1055.51" r="2.1"/><circle cx="573.45" cy="1055.09" r="2.1"/><circle cx="576.79" cy="1054.68" r="2.1"/><circle cx="580.13" cy="1054.26" r="2.1"/><circle cx="583.46" cy="1053.85" r="2.1"/><circle cx="586.80" cy="1053.43" r="2.1"/><circle cx="590.14" cy="1053.01" r="2.1"/><circle cx="593.48" cy="1052.60" r="2.1"/><circle cx="596.82" cy="1052.18" r="2.1"/><circle cx="600.15" cy="1051.76" r="2.1"/><circle cx="603.49" cy="1051.34" r="2.1"/><circle cx="606.83" cy="1050.92" r="2.1"/><circle cx="610.17" cy="1050.50" r="2.1"/><circle cx="613.50" cy="1050.07" r="2.1"/><circle cx="616.84" cy="1049.65" r="2.1"/><circle cx="620.18" cy="1049.23" r="2.1"/><circle cx="623.52" cy="1048.80" r="2.1"/><circle cx="626.86" cy="1048.38" r="2.1"/><circle cx="630.19" cy="1047.95" r="2.1"/><circle cx="633.53" cy="1047.53" r="2.1"/><circle cx="636.87" cy="1047.10" r="2.1"/><circle cx="640.21" cy="1046.67" r="2.1"/><circle cx="643.55" cy="1046.25" r="2.1"/><circle cx="646.88" cy="1045.82" r="2.1"/><circle cx="650.22" cy="1045.39" r="2.1"/><circle cx="653.56" cy="1044.96" r="2.1"/><circle cx="656.90" cy="1044.53" r="2.1"/><circle cx="660.24" cy="1044.10" r="2.1"/><circle cx="663.57" cy="1043.66" r="2.1"/><circle cx="666.91" cy="1043.23" r="2.1"/><circle cx="670.25" cy="1042.80" r="2.1"/><circle cx="673.59" cy="1042.36" r="2.1"/><circle cx="676.93" cy="1041.93" r="2.1"/><circle cx="680.26" cy="1041.49" r="2.1"/><circle cx="683.60" cy="1041.06" r="2.1"/><circle cx="686.94" cy="1040.62" r="2.1"/><circle cx="690.28" cy="1040.18" r="2.1"/><circle cx="693.62" cy="1039.75" r="2.1"/><circle cx="696.95" cy="1039.31" r="2.1"/><circle cx="700.29" cy="1038.87" r="2.1"/><circle cx="703.63" cy="1038.43" r="2.1"/><circle cx="706.97" cy="1037.99" r="2.1"/><circle cx="710.31" cy="1037.55" r="2.1"/><circle cx="713.64" cy="1037.11" r="2.1"/><circle cx="716.98" cy="1036.66" r="2.1"/><circle cx="720.32" cy="1036.22" r="2.1"/><circle cx="723.66" cy="1035.78" r="2.1"/><circle cx="727.00" cy="1035.33" r="2.1"/><circle cx="730.33" cy="1034.89" r="2.1"/><circle cx="733.67" cy="1034.44" r="2.1"/><circle cx="737.01" cy="1034.00" r="2.1"/><circle cx="740.35" cy="1033.55" r="2.1"/><circle cx="743.68" cy="1033.10" r="2.1"/><circle cx="747.02" cy="1032.65" r="2.1"/><circle cx="750.36" cy="1032.20" r="2.1"/><circle cx="753.70" cy="1031.75" r="2.1"/><circle cx="757.04" cy="1031.30" r="2.1"/><circle cx="760.37" cy="1030.85" r="2.1"/><circle cx="763.71" cy="1030.40" r="2.1"/><circle cx="767.05" cy="1029.95" r="2.1"/><circle cx="770.39" cy="1029.50" r="2.1"/><circle cx="773.73" cy="1029.04" r="2.1"/><circle cx="777.06" cy="1028.59" r="2.1"/><circle cx="780.40" cy="1028.13" r="2.1"/><circle cx="783.74" cy="1027.68" r="2.1"/><circle cx="787.08" cy="1027.22" r="2.1"/><circle cx="790.42" cy="1026.76" r="2.1"/><circle cx="793.75" cy="1026.31" r="2.1"/><circle cx="797.09" cy="1025.85" r="2.1"/><circle cx="800.43" cy="1025.39" r="2.1"/></g>
<g fill="#000000"><circle cx="132.84" cy="1090.89" r="2.1"/><circle cx="136.18" cy="1090.49" r="2.1"/><circle cx="139.52" cy="1090.09" r="2.1"/><circle cx="142.85" cy="1089.68" r="2.1"/><circle cx="146.19" cy="1089.28" r="2.1"/><circle cx="149.53" cy="1088.87" r="2.1"/><circle cx="152.87" cy="1088.47" r="2.1"/><circle cx="156.21" cy="1088.06" r="2.1"/><circle cx="159.54" cy="1087.65" r="2.1"/><circle cx="162.88" cy="1087.25" r="2.1"/><circle cx="166.22" cy="1086.84" r="2.1"/><circle cx="169.56" cy="1086.43" r="2.1"/><circle cx="172.90" cy="1086.02" r="2.1"/><circle cx="176.23" cy="1085.60" r="2.1"/><circle cx="179.57" cy="1085.19" r="2.1"/><circle cx="182.91" cy="1084.78" r="2.1"/><circle cx="186.25" cy="1084.36" r="2.1"/><circle cx="189.59" cy="1083.95" r="2.1"/><circle cx="192.92" cy="1083.53" r="2.1"/><circle cx="196.26" cy="1083.12" r="2.1"/><circle cx="199.60" cy="1082.70" r="2.1"/><circle cx="202.94" cy="1082.28" r="2.1"/><circle cx="206.27" cy="1081.86" r="2.1"/><circle cx="209.61" cy="1081.44" r="2.1"/><circle cx="212.95" cy="1081.02" r="2.1"/><circle cx="216.29" cy="1080.60" r="2.1"/><circle cx="219.63" cy="1080.18" r="2.1"/><circle cx="222.96" cy="1079.76" r="2.1"/><circle cx="226.30" cy="1079.33" r="2.1"/><circle cx="229.64" cy="1078.91" r="2.1"/><circle cx="232.98" cy="1078.48" r="2.1"/><circle cx="236.32" cy="1078.06" r="2.1"/><circle cx="239.65" cy="1077.63" r="2.1"/><circle cx="242.99" cy="1077.20" r="2.1"/><circle cx="246.33" cy="1076.77" r="2.1"/><circle cx="249.67" cy="1076.34" r="2.1"/><circle cx="253.01" cy="1075.91" r="2.1"/><circle cx="256.34" cy="1075.48" r="2.1"/><circle cx="259.68" cy="1075.05" r="2.1"/><circle cx="263.02" cy="1074.62" r="2.1"/><circle cx="266.36" cy="1074.18" r="2.1"/><circle cx="269.70" cy="1073.75" r="2.1"/><circle cx="273.03" cy="1073.31" r="2.1"/><circle cx="276.37" cy="1072.88" r="2.1"/><circle cx="279.71" cy="1072.44" r="2.1"/><circle cx="283.05" cy="1072.00" r="2.1"/><circle cx="286.39" cy="1071.56" r="2.1"/><circle cx="289.72" cy="1071.12" r="2.1"/><circle cx="293.06" cy="1070.68" r="2.1"/><circle cx="296.40" cy="1070.24" r="2.1"/><circle cx="299.74" cy="1069.80" r="2.1"/><circle cx="303.08" cy="1069.36" r="2.1"/><circle cx="306.41" cy="1068.92" r="2.1"/><circle cx="309.75" cy="1068.47" r="2.1"/><circle cx="313.09" cy="1068.03" r="2.1"/><circle cx="316.43" cy="1067.58" r="2.1"/><circle cx="319.77" cy="1067.13" r="2.1"/><circle cx="323.10" cy="1066.69" r="2.1"/><circle cx="326.44" cy="1066.24" r="2.1"/><circle cx="329.78" cy="1065.79" r="2.1"/><circle cx="333.12" cy="1065.34" r="2.1"/><circle cx="336.45" cy="1064.89" r="2.1"/><circle cx="339.79" cy="1064.44" r="2.1"/><circle cx="343.13" cy="1063.98" r="2.1"/><circle cx="346.47" cy="1063.53" r="2.1"/><circle cx="349.81" cy="1063.08" r="2.1"/><circle cx="353.14" cy="1062.62" r="2.1"/><circle cx="356.48" cy="1062.17" r="2.1"/><circle cx="359.82" cy="1061.71" r="2.1"/><circle cx="363.16" cy="1061.25" r="2.1"/><circle cx="366.50" cy="1060.79" r="2.1"/><circle cx="369.83" cy="1060.34" r="2.1"/><circle cx="373.17" cy="1059.88" r="2.1"/><circle cx="376.51" cy="1059.42" r="2.1"/><circle cx="379.85" cy="1058.95" r="2.1"/><circle cx="383.19" cy="1058.49" r="2.1"/><circle cx="386.52" cy="1058.03" r="2.1"/><circle cx="389.86" cy="1057.56" r="2.1"/><circle cx="393.20" cy="1057.10" r="2.1"/><circle cx="396.54" cy="1056.63" r="2.1"/><circle cx="399.88" cy="1056.17" r="2.1"/><circle cx="403.21" cy="1055.70" r="2.1"/><circle cx="406.55" cy="1055.23" r="2.1"/><circle cx="409.89" cy="1054.77" r="2.1"/><circle cx="413.23" cy="1054.30" r="2.1"/><circle cx="416.57" cy="1053.83" r="2.1"/><circle cx="419.90" cy="1053.35" r="2.1"/><circle cx="423.24" cy="1052.88" r="2.1"/><circle cx="426.58" cy="1052.41" r="2.1"/><circle cx="429.92" cy="1051.94" r="2.1"/><circle cx="433.26" cy="1051.46" r="2.1"/><circle cx="436.59" cy="1050.99" r="2.1"/><circle cx="439.93" cy="1050.51" r="2.1"/><circle cx="443.27" cy="1050.03" r="2.1"/><circle cx="446.61" cy="1049.56" r="2.1"/><circle cx="449.95" cy="1049.08" r="2.1"/><circle cx="453.28" cy="1048.60" r="2.1"/><circle cx="456.62" cy="1048.12" r="2.1"/><circle cx="459.96" cy="1047.64" r="2.1"/><circle cx="463.30" cy="1047.15" r="2.1"/><circle cx="466.63" cy="1046.67" r="2.1"/><circle cx="469.97" cy="1046.19" r="2.1"/><circle cx="473.31" cy="1045.70" r="2.1"/><circle cx="476.65" cy="1045.22" r="2.1"/><circle cx="479.99" cy="1044.73" r="2.1"/><circle cx="483.32" cy="1044.25" r="2.1"/><circle cx="486.66" cy="1043.76" r="2.1"/><circle cx="490.00" cy="1043.27" r="2.1"/><circle cx="493.34" cy="1042.78" r="2.1"/><circle cx="496.68" cy="1042.29" r="2.1"/><circle cx="500.01" cy="1041.80" r="2.1"/><circle cx="503.35" cy="1041.31" r="2.1"/><circle cx="506.69" cy="1040.82" r="2.1"/><circle cx="510.03" cy="1040.32" r="2.1"/><circle cx="513.37" cy="1039.83" r="2.1"/><circle cx="516.70" cy="1039.34" r="2.1"/><circle cx="520.04" cy="1038.84" r="2.1"/><circle cx="523.38" cy="1038.34" r="2.1"/><circle cx="526.72" cy="1037.85" r="2.1"/><circle cx="530.06" cy="1037.35" r="2.1"/><circle cx="533.39" cy="1036.85" r="2.1"/><circle cx="536.73" cy="1036.35" r="2.1"/><circle cx="540.07" cy="1035.85" r="2.1"/><circle cx="543.41" cy="1035.35" r="2.1"/><circle cx="546.75" cy="1034.85" r="2.1"/><circle cx="550.08" cy="1034.34" r="2.1"/><circle cx="553.42" cy="1033.84" r="2.1"/><circle cx="556.76" cy="1033.33" r="2.1"/><circle cx="560.10" cy="1032.83" r="2.1"/><circle cx="563.44" cy="1032.32" r="2.1"/><circle cx="566.77" cy="1031.82" r="2.1"/><circle cx="570.11" cy="1031.31" r="2.1"/><circle cx="573.45" cy="1030.80" r="2.1"/><circle cx="576.79" cy="1030.29" r="2.1"/><circle cx="580.13" cy="1029.78" r="2.1"/><circle cx="583.46" cy="1029.27" r="2.1"/><circle cx="586.80" cy="1028.76" r="2.1"/><circle cx="590.14" cy="1028.24" r="2.1"/><circle cx="593.48" cy="1027.73" r="2.1"/><circle cx="596.82" cy="1027.22" r="2.1"/><circle cx="600.15" cy="1026.70" r="2.1"/><circle cx="603.49" cy="1026.19" r="2.1"/><circle cx="606.83" cy="1025.67" r="2.1"/><circle cx="610.17" cy="1025.15" r="2.1"/><circle cx="613.50" cy="1024.63" r="2.1"/><circle cx="616.84" cy="1024.11" r="2.1"/><circle cx="620.18" cy="1023.59" r="2.1"/><circle cx="623.52" cy="1023.07" r="2.1"/><circle cx="626.86" cy="1022.55" r="2.1"/><circle cx="630.19" cy="1022.03" r="2.1"/><circle cx="633.53" cy="1021.50" r="2.1"/><circle cx="636.87" cy="1020.98" r="2.1"/><circle cx="640.21" cy="1020.46" r="2.1"/><circle cx="643.55" cy="1019.93" r="2.1"/><circle cx="646.88" cy="1019.40" r="2.1"/><circle cx="650.22" cy="1018.88" r="2.1"/><circle cx="653.56" cy="1018.35" r="2.1"/><circle cx="656.90" cy="1017.82" r="2.1"/><circle cx="660.24" cy="1017.29" r="2.1"/><circle cx="663.57" cy="1016.76" r="2.1"/><circle cx="666.91" cy="1016.23" r="2.1"/><circle cx="670.25" cy="1015.69" r="2.1"/><circle cx="673.59" cy="1015.16" r="2.1"/><circle cx="676.93" cy="1014.63" r="2.1"/><circle cx="680.26" cy="1014.09" r="2.1"/><circle cx="683.60" cy="1013.56" r="2.1"/><circle cx="686.94" cy="1013.02" r="2.1"/><circle cx="690.28" cy="1012.48" r="2.1"/><circle cx="693.62" cy="1011.94" r="2.1"/><circle cx="696.95" cy="1011.41" r="2.1"/><circle cx="700.29" cy="1010.87" r="2.1"/><circle cx="703.63" cy="1010.33" r="2.1"/><circle cx="706.97" cy="1009.78" r="2.1"/><circle cx="710.31" cy="1009.24" r="2.1"/><circle cx="713.64" cy="1008.70" r="2.1"/><circle cx="716.98" cy="1008.16" r="2.1"/><circle cx="720.32" cy="1007.61" r="2.1"/><circle cx="723.66" cy="1007.07" r="2.1"/><circle cx="727.00" cy="1006.52" r="2.1"/><circle cx="730.33" cy="1005.97" r="2.1"/><circle cx="733.67" cy="1005.43" r="2.1"/><circle cx="737.01" cy="1004.88" r="2.1"/><circle cx="740.35" cy="1004.33" r="2.1"/><circle cx="743.68" cy="1003.78" r="2.1"/><circle cx="747.02" cy="1003.23" r="2.1"/><circle cx="750.36" cy="1002.67" r="2.1"/><circle cx="753.70" cy="1002.12" r="2.1"/><circle cx="757.04" cy="1001.57" r="2.1"/><circle cx="760.37" cy="1001.01" r="2.1"/><circle cx="763.71" cy="1000.46" r="2.1"/><circle cx="767.05" cy="999.90" r="2.1"/><circle cx="770.39" cy="999.35" r="2.1"/><circle cx="773.73" cy="998.79" r="2.1"/><circle cx="777.06" cy="998.23" r="2.1"/><circle cx="780.40" cy="997.67" r="2.1"/><circle cx="783.74" cy="997.11" r="2.1"/><circle cx="787.08" cy="996.55" r="2.1"/><circle cx="790.42" cy="995.99" r="2.1"/><circle cx="793.75" cy="995.43" r="2.1"/><circle cx="797.09" cy="994.86" r="2.1"/><circle cx="800.43" cy="994.30" r="2.1"/></g>
<g fill="#ff00ff"><circle cx="132.84" cy="990.20" r="2.1"/><circle cx="136.18" cy="989.20" r="2.1"/><circle cx="139.52" cy="988.21" r="2.1"/><circle cx="142.85" cy="987.21" r="2.1"/><circle cx="146.19" cy="986.21" r="2.1"/><circle cx="149.53" cy="985.21" r="2.1"/><circle cx="152.87" cy="984.21" r="2.1"/><circle cx="156.21" cy="983.21" r="2.1"/><circle cx="159.54" cy="982.20" r="2.1"/><circle cx="162.88" cy="981.20" r="2.1"/><circle cx="166.22" cy="980.19" r="2.1"/><circle cx="169.56" cy="979.18" r="2.1"/><circle cx="172.90" cy="978.17" r="2.1"/><circle cx="176.23" cy="977.16" r="2.1"/><circle cx="179.57" cy="976.15" r="2.1"/><circle cx="182.91" cy="975.14" r="2.1"/><circle cx="186.25" cy="974.12" r="2.1"/><circle cx="189.59" cy="973.11" r="2.1"/><circle cx="192.92" cy="972.09" r="2.1"/><circle cx="196.26" cy="971.07" r="2.1"/><circle cx="199.60" cy="970.05" r="2.1"/><circle cx="202.94" cy="969.03" r="2.1"/><circle cx="206.27" cy="968.00" r="2.1"/><circle cx="209.61" cy="966.98" r="2.1"/><circle cx="212.95" cy="965.95" r="2.1"/><circle cx="216.29" cy="964.92" r="2.1"/><circle cx="219.63" cy="963.89" r="2.1"/><circle cx="222.96" cy="962.86" r="2.1"/><circle cx="226.30" cy="961.83" r="2.1"/><circle cx="229.64" cy="960.80" r="2.1"/><circle cx="232.98" cy="959.76" r="2.1"/><circle cx="236.32" cy="958.72" r="2.1"/><circle cx="239.65" cy="957.69" r="2.1"/><circle cx="242.99" cy="956.65" r="2.1"/><circle cx="246.33" cy="955.60" r="2.1"/><circle cx="249.67" cy="954.56" r="2.1"/><circle cx="253.01" cy="953.52" r="2.1"/><circle cx="256.34" cy="952.47" r="2.1"/><circle cx="259.68" cy="951.42" r="2.1"/><circle cx="263.02" cy="950.37" r="2.1"/><circle cx="266.36" cy="949.32" r="2.1"/><circle cx="269.70" cy="948.27" r="2.1"/><circle cx="273.03" cy="947.21" r="2.1"/><circle cx="276.37" cy="946.16" r="2.1"/><circle cx="279.71" cy="945.10" r="2.1"/><circle cx="283.05" cy="944.04" r="2.1"/><circle cx="286.39" cy="942.98" r="2.1"/><circle cx="289.72" cy="941.92" r="2.1"/><circle cx="293.06" cy="940.85" r="2.1"/><circle cx="296.40" cy="939.79" r="2.1"/><circle cx="299.74" cy="938.72" r="2.1"/><circle cx="303.08" cy="937.65" r="2.1"/><circle cx="306.41" cy="936.58" r="2.1"/><circle cx="309.75" cy="935.50" r="2.1"/><circle cx="313.09" cy="934.43" r="2.1"/><circle cx="316.43" cy="933.35" r="2.1"/><circle cx="319.77" cy="932.28" r="2.1"/><circle cx="323.10" cy="931.20" r="2.1"/><circle cx="326.44" cy="930.11" r="2.1"/><circle cx="329.78" cy="929.03" r="2.1"/><circle cx="333.12" cy="927.95" r="2.1"/><circle cx="336.45" cy="926.86" r="2.1"/><circle cx="339.79" cy="925.77" r="2.1"/><circle cx="343.13" cy="924.68" r="2.1"/><circle cx="346.47" cy="923.59" r="2.1"/><circle cx="349.81" cy="922.49" r="2.1"/><circle cx="353.14" cy="921.40" r="2.1"/><circle cx="356.48" cy="920.30" r="2.1"/><circle cx="359.82" cy="919.20" r="2.1"/><circle cx="363.16" cy="918.10" r="2.1"/><circle cx="366.50" cy="916.99" r="2.1"/><circle cx="369.83" cy="915.89" r="2.1"/><circle cx="373.17" cy="914.78" r="2.1"/><circle cx="376.51" cy="913.67" r="2.1"/><circle cx="379.85" cy="912.56" r="2.1"/><circle cx="383.19" cy="911.45" r="2.1"/><circle cx="386.52" cy="910.33" r="2.1"/><circle cx="389.86" cy="909.21" r="2.1"/><circle cx="393.20" cy="908.10" r="2.1"/><circle cx="396.54" cy="906.97" r="2.1"/><circle cx="399.88" cy="905.85" r="2.1"/><circle cx="403.21" cy="904.73" r="2.1"/><circle cx="406.55" cy="903.60" r="2.1"/><circle cx="409.89" cy="902.47" r="2.1"/><circle cx="413.23" cy="901.34" r="2.1"/><circle cx="416.57" cy="900.21" r="2.1"/><circle cx="419.90" cy="899.07" r="2.1"/><circle cx="423.24" cy="897.94" r="2.1"/><circle cx="426.58" cy="896.80" r="2.1"/><circle cx="429.92" cy="895.66" r="2.1"/><circle cx="433.26" cy="894.51" r="2.1"/><circle cx="436.59" cy="893.37" r="2.1"/><circle cx="439.93" cy="892.22" r="2.1"/><circle cx="443.27" cy="891.07" r="2.1"/><circle cx="446.61" cy="889.92" r="2.1"/><circle cx="449.95" cy="888.77" r="2.1"/><circle cx="453.28" cy="887.61" r="2.1"/><circle cx="456.62" cy="886.45" r="2.1"/><circle cx="459.96" cy="885.29" r="2.1"/><circle cx="463.30" cy="884.13" r="2.1"/><circle cx="466.63" cy="882.97" r="2.1"/><circle cx="469.97" cy="881.80" r="2.1"/><circle cx="473.31" cy="880.63" r="2.1"/><circle cx="476.65" cy="879.46" r="2.1"/><circle cx="479.99" cy="878.29" r="2.1"/><circle cx="483.32" cy="877.11" r="2.1"/><circle cx="486.66" cy="875.94" r="2.1"/><circle cx="490.00" cy="874.76" r="2.1"/><circle cx="493.34" cy="873.58" r="2.1"/><circle cx="496.68" cy="872.39" r="2.1"/><circle cx="500.01" cy="871.21" r="2.1"/><circle cx="503.35" cy="870.02" r="2.1"/><circle cx="506.69" cy="868.83" r="2.1"/><circle cx="510.03" cy="867.64" r="2.1"/><circle cx="513.37" cy="866.44" r="2.1"/><circle cx="516.70" cy="865.24" r="2.1"/><circle cx="520.04" cy="864.04" r="2.1"/><circle cx="523.38" cy="862.84" r="2.1"/><circle cx="526.72" cy="861.64" r="2.1"/><circle cx="530.06" cy="860.43" r="2.1"/><circle cx="533.39" cy="859.22" r="2.1"/><circle cx="536.73" cy="858.01" r="2.1"/><circle cx="540.07" cy="856.80" r="2.1"/><circle cx="543.41" cy="855.58" r="2.1"/><circle cx="546.75" cy="854.36" r="2.1"/><circle cx="550.08" cy="853.14" r="2.1"/><circle cx="553.42" cy="851.92" r="2.1"/><circle cx="556.76" cy="850.70" r="2.1"/><circle cx="560.10" cy="849.47" r="2.1"/><circle cx="563.44" cy="848.24" r="2.1"/><circle cx="566.77" cy="847.01" r="2.1"/><circle cx="570.11" cy="845.77" r="2.1"/><circle cx="573.45" cy="844.53" r="2.1"/><circle cx="576.79" cy="843.29" r="2.1"/><circle cx="580.13" cy="842.05" r="2.1"/><circle cx="583.46" cy="840.81" r="2.1"/><circle cx="586.80" cy="839.56" r="2.1"/><circle cx="590.14" cy="838.31" r="2.1"/><circle cx="593.48" cy="837.06" r="2.1"/><circle cx="596.82" cy="835.80" r="2.1"/><circle cx="600.15" cy="834.55" r="2.1"/><circle cx="603.49" cy="833.29" r="2.1"/><circle cx="606.83" cy="832.03" r="2.1"/><circle cx="610.17" cy="830.76" r="2.1"/><circle cx="613.50" cy="829.49" r="2.1"/><circle cx="616.84" cy="828.22" r="2.1"/><circle cx="620.18" cy="826.95" r="2.1"/><circle cx="623.52" cy="825.68" r="2.1"/><circle cx="626.86" cy="824.40" r="2.1"/><circle cx="630.19" cy="823.12" r="2.1"/><circle cx="633.53" cy="821.84" r="2.1"/><circle cx="636.87" cy="820.55" r="2.1"/><circle cx="640.21" cy="819.27" r="2.1"/><circle cx="643.55" cy="817.98" r="2.1"/><circle cx="646.88" cy="816.68" r="2.1"/><circle cx="650.22" cy="815.39" r="2.1"/><circle cx="653.56" cy="814.09" r="2.1"/><circle cx="656.90" cy="812.79" r="2.1"/><circle cx="660.24" cy="811.49" r="2.1"/><circle cx="663.57" cy="810.18" r="2.1"/><circle cx="666.91" cy="808.87" r="2.1"/><circle cx="670.25" cy="807.56" r="2.1"/><circle cx="673.59" cy="806.24" r="2.1"/><circle cx="676.93" cy="804.93" r="2.1"/><circle cx="680.26" cy="803.61" r="2.1"/><circle cx="683.60" cy="802.29" r="2.1"/><circle cx="686.94" cy="800.96" r="2.1"/><circle cx="690.28" cy="799.63" r="2.1"/><circle cx="693.62" cy="798.30" r="2.1"/><circle cx="696.95" cy="796.97" r="2.1"/><circle cx="700.29" cy="795.63" r="2.1"/><circle cx="703.63" cy="794.29" r="2.1"/><circle cx="706.97" cy="792.95" r="2.1"/><circle cx="710.31" cy="791.61" r="2.1"/><circle cx="713.64" cy="790.26" r="2.1"/><circle cx="716.98" cy="788.91" r="2.1"/><circle cx="720.32" cy="787.56" r="2.1"/><circle cx="723.66" cy="786.20" r="2.1"/><circle cx="727.00" cy="784.85" r="2.1"/><circle cx="730.33" cy="783.48" r="2.1"/><circle cx="733.67" cy="782.12" r="2.1"/><circle cx="737.01" cy="780.75" r="2.1"/><circle cx="740.35" cy="779.38" r="2.1"/><circle cx="743.68" cy="778.01" r="2.1"/><circle cx="747.02" cy="776.64" r="2.1"/><circle cx="750.36" cy="775.26" r="2.1"/><circle cx="753.70" cy="773.88" r="2.1"/><circle cx="757.04" cy="772.49" r="2.1"/><circle cx="760.37" cy="771.10" r="2.1"/><circle cx="763.71" cy="769.71" r="2.1"/><circle cx="767.05" cy="768.32" r="2.1"/><circle cx="770.39" cy="766.92" r="2.1"/><circle cx="773.73" cy="765.53" r="2.1"/><circle cx="777.06" cy="764.12" r="2.1"/><circle cx="780.40" cy="762.72" r="2.1"/><circle cx="783.74" cy="761.31" r="2.1"/><circle cx="787.08" cy="759.90" r="2.1"/><circle cx="790.42" cy="758.49" r="2.1"/><circle cx="793.75" cy="757.07" r="2.1"/><circle cx="797.09" cy="755.65" r="2.1"/><circle cx="800.43" cy="754.23" r="2.1"/></g>
<text x="436.06" y="668.60" font-size="34.50" textLength="15.31" lengthAdjust="spacingAndGlyphs" font-style="italic">v</text>
<line x1="455.0" y1="676.1" x2="466.9" y2="642.4" stroke="#000" stroke-width="1.4"/>
<text x="470.02" y="668.60" font-size="34.50" textLength="14.47" lengthAdjust="spacingAndGlyphs" font-style="italic">c</text>
<text x="418.35" y="1244.20" font-size="31.80" textLength="14.94" lengthAdjust="spacingAndGlyphs" font-style="italic">b</text>
<text x="450.46" y="1244.50" font-size="33.80" textLength="41.05" lengthAdjust="spacingAndGlyphs">nm</text>
<path d="M450.20 1220.90 H445.80 V1252.00 H450.20" fill="none" stroke="#000" stroke-width="1.45" stroke-linejoin="miter"/>
<path d="M493.20 1220.90 H497.60 V1252.00 H493.20" fill="none" stroke="#000" stroke-width="1.45"/>
<text x="6.69" y="182.70" font-size="37.87" textLength="21.76" lengthAdjust="spacingAndGlyphs" font-weight="bold">a</text>
<path d="M29.60 154.20 L31.83 156.53 L33.75 159.13 L35.32 161.96 L36.53 164.95 L37.34 168.08 L37.75 171.28 L37.75 174.52 L37.34 177.72 L36.53 180.85 L35.32 183.84 L33.75 186.67 L31.83 189.27 L29.60 191.60 L29.60 191.60 L31.34 189.05 L32.82 186.34 L34.03 183.50 L34.94 180.54 L35.55 177.52 L35.86 174.44 L35.86 171.36 L35.55 168.28 L34.94 165.26 L34.03 162.30 L32.82 159.46 L31.34 156.75 L29.60 154.20 Z" fill="#000" stroke="#000" stroke-width="0.7" stroke-linejoin="round"/>
<text x="7.62" y="755.50" font-size="34.93" textLength="20.94" lengthAdjust="spacingAndGlyphs" font-weight="bold">b</text>
<path d="M30.00 730.00 L32.11 732.04 L33.94 734.35 L35.43 736.88 L36.58 739.58 L37.36 742.42 L37.75 745.33 L37.75 748.27 L37.36 751.18 L36.58 754.02 L35.43 756.72 L33.94 759.25 L32.11 761.56 L30.00 763.60 L30.00 763.60 L31.66 761.34 L33.06 758.93 L34.21 756.38 L35.08 753.72 L35.67 750.98 L35.96 748.20 L35.96 745.40 L35.67 742.62 L35.08 739.88 L34.21 737.22 L33.06 734.67 L31.66 732.26 L30.00 730.00 Z" fill="#000" stroke="#000" stroke-width="0.7" stroke-linejoin="round"/>
<g transform="translate(53.0,1079.2) rotate(-90) scale(1.0)">
<path d="M8.60 -28.00 L6.34 -25.53 L4.39 -22.81 L2.80 -19.86 L1.59 -16.74 L0.77 -13.50 L0.35 -10.17 L0.35 -6.83 L0.77 -3.50 L1.59 -0.26 L2.80 2.86 L4.39 5.81 L6.34 8.53 L8.60 11.00 L8.60 11.00 L6.85 8.32 L5.37 5.47 L4.17 2.51 L3.26 -0.57 L2.65 -3.71 L2.34 -6.90 L2.34 -10.10 L2.65 -13.29 L3.26 -16.43 L4.17 -19.51 L5.37 -22.47 L6.85 -25.32 L8.60 -28.00 Z" fill="#000" stroke="#000" stroke-width="0.7" stroke-linejoin="round"/>
<path d="M11.50 0 L33.90 0 L22.70 -23.80 Z M13.54 -2.10 L21.62 -19.28 L29.71 -2.10 Z" fill="#000" fill-rule="evenodd"/>
<path d="M37.45 0 L55.67 0 L56.25 -8.4 L55.38 -8.4 Q55.00 -1.4 51.07 -1.4 L42.15 -1.4 L48.38 -21.9 L51.36 -21.9 L51.36 -23.1 L42.34 -23.1 L42.34 -21.9 L45.31 -21.9 L39.08 -1.4 L37.45 -1.4 Z" fill="#000"/>
<text x="58.10" y="4.60" font-size="24.50" textLength="10.85" lengthAdjust="spacingAndGlyphs" font-style="italic">p</text>
<line x1="79.7" y1="-8.7" x2="99.7" y2="-8.7" stroke="#000" stroke-width="1.3"/>
<path d="M111.00 0 L133.40 0 L122.20 -23.80 Z M113.04 -2.10 L121.12 -19.28 L129.21 -2.10 Z" fill="#000" fill-rule="evenodd"/>
<path d="M136.40 0 L155.40 0 L156.00 -8.4 L155.10 -8.4 Q154.70 -1.4 150.60 -1.4 L141.30 -1.4 L147.80 -21.9 L150.90 -21.9 L150.90 -23.1 L141.50 -23.1 L141.50 -21.9 L144.60 -21.9 L138.10 -1.4 L136.40 -1.4 Z" fill="#000"/>
<text x="157.76" y="4.80" font-size="24.50" textLength="9.23" lengthAdjust="spacingAndGlyphs" font-style="italic">s</text>
<path d="M169.50 -28.00 L171.76 -25.53 L173.71 -22.81 L175.30 -19.86 L176.51 -16.74 L177.33 -13.50 L177.75 -10.17 L177.75 -6.83 L177.33 -3.50 L176.51 -0.26 L175.30 2.86 L173.71 5.81 L171.76 8.53 L169.50 11.00 L169.50 11.00 L171.25 8.32 L172.73 5.47 L173.93 2.51 L174.84 -0.57 L175.45 -3.71 L175.76 -6.90 L175.76 -10.10 L175.45 -13.29 L174.84 -16.43 L173.93 -19.51 L172.73 -22.47 L171.25 -25.32 L169.50 -28.00 Z" fill="#000" stroke="#000" stroke-width="0.7" stroke-linejoin="round"/>
<line x1="185.4" y1="10.9" x2="199.8" y2="-27.9" stroke="#000" stroke-width="1.3"/>
<path d="M203.50 0 L225.90 0 L214.70 -23.80 Z M205.54 -2.10 L213.62 -19.28 L221.71 -2.10 Z" fill="#000" fill-rule="evenodd"/>
<path d="M229.30 0 L247.96 0 L248.55 -8.4 L247.67 -8.4 Q247.27 -1.4 243.25 -1.4 L234.11 -1.4 L240.50 -21.9 L243.54 -21.9 L243.54 -23.1 L234.31 -23.1 L234.31 -21.9 L237.35 -21.9 L230.97 -1.4 L229.30 -1.4 Z" fill="#000"/>
<text x="250.26" y="4.80" font-size="24.50" textLength="9.34" lengthAdjust="spacingAndGlyphs" font-style="italic">s</text>
</g>
<g transform="translate(37.6,506.9) rotate(-90) scale(1.031)">
<path d="M8.60 -28.00 L6.34 -25.53 L4.39 -22.81 L2.80 -19.86 L1.59 -16.74 L0.77 -13.50 L0.35 -10.17 L0.35 -6.83 L0.77 -3.50 L1.59 -0.26 L2.80 2.86 L4.39 5.81 L6.34 8.53 L8.60 11.00 L8.60 11.00 L6.85 8.32 L5.37 5.47 L4.17 2.51 L3.26 -0.57 L2.65 -3.71 L2.34 -6.90 L2.34 -10.10 L2.65 -13.29 L3.26 -16.43 L4.17 -19.51 L5.37 -22.47 L6.85 -25.32 L8.60 -28.00 Z" fill="#000" stroke="#000" stroke-width="0.7" stroke-linejoin="round"/>
<path d="M11.50 0 L33.90 0 L22.70 -23.80 Z M13.54 -2.10 L21.62 -19.28 L29.71 -2.10 Z" fill="#000" fill-rule="evenodd"/>
<path d="M37.45 0 L55.67 0 L56.25 -8.4 L55.38 -8.4 Q55.00 -1.4 51.07 -1.4 L42.15 -1.4 L48.38 -21.9 L51.36 -21.9 L51.36 -23.1 L42.34 -23.1 L42.34 -21.9 L45.31 -21.9 L39.08 -1.4 L37.45 -1.4 Z" fill="#000"/>
<text x="58.10" y="4.60" font-size="24.50" textLength="10.85" lengthAdjust="spacingAndGlyphs" font-style="italic">p</text>
<line x1="79.7" y1="-8.7" x2="99.7" y2="-8.7" stroke="#000" stroke-width="1.3"/>
<path d="M111.00 0 L133.40 0 L122.20 -23.80 Z M113.04 -2.10 L121.12 -19.28 L129.21 -2.10 Z" fill="#000" fill-rule="evenodd"/>
<path d="M136.40 0 L155.40 0 L156.00 -8.4 L155.10 -8.4 Q154.70 -1.4 150.60 -1.4 L141.30 -1.4 L147.80 -21.9 L150.90 -21.9 L150.90 -23.1 L141.50 -23.1 L141.50 -21.9 L144.60 -21.9 L138.10 -1.4 L136.40 -1.4 Z" fill="#000"/>
<text x="157.76" y="4.80" font-size="24.50" textLength="9.23" lengthAdjust="spacingAndGlyphs" font-style="italic">s</text>
<path d="M169.50 -28.00 L171.76 -25.53 L173.71 -22.81 L175.30 -19.86 L176.51 -16.74 L177.33 -13.50 L177.75 -10.17 L177.75 -6.83 L177.33 -3.50 L176.51 -0.26 L175.30 2.86 L173.71 5.81 L171.76 8.53 L169.50 11.00 L169.50 11.00 L171.25 8.32 L172.73 5.47 L173.93 2.51 L174.84 -0.57 L175.45 -3.71 L175.76 -6.90 L175.76 -10.10 L175.45 -13.29 L174.84 -16.43 L173.93 -19.51 L172.73 -22.47 L171.25 -25.32 L169.50 -28.00 Z" fill="#000" stroke="#000" stroke-width="0.7" stroke-linejoin="round"/>
<line x1="185.4" y1="10.9" x2="199.8" y2="-27.9" stroke="#000" stroke-width="1.3"/>
<path d="M203.50 0 L225.90 0 L214.70 -23.80 Z M205.54 -2.10 L213.62 -19.28 L221.71 -2.10 Z" fill="#000" fill-rule="evenodd"/>
<path d="M229.30 0 L247.96 0 L248.55 -8.4 L247.67 -8.4 Q247.27 -1.4 243.25 -1.4 L234.11 -1.4 L240.50 -21.9 L243.54 -21.9 L243.54 -23.1 L234.31 -23.1 L234.31 -21.9 L237.35 -21.9 L230.97 -1.4 L229.30 -1.4 Z" fill="#000"/>
<text x="250.26" y="4.80" font-size="24.50" textLength="9.34" lengthAdjust="spacingAndGlyphs" font-style="italic">s</text>
</g>
</svg>
</body></html>
